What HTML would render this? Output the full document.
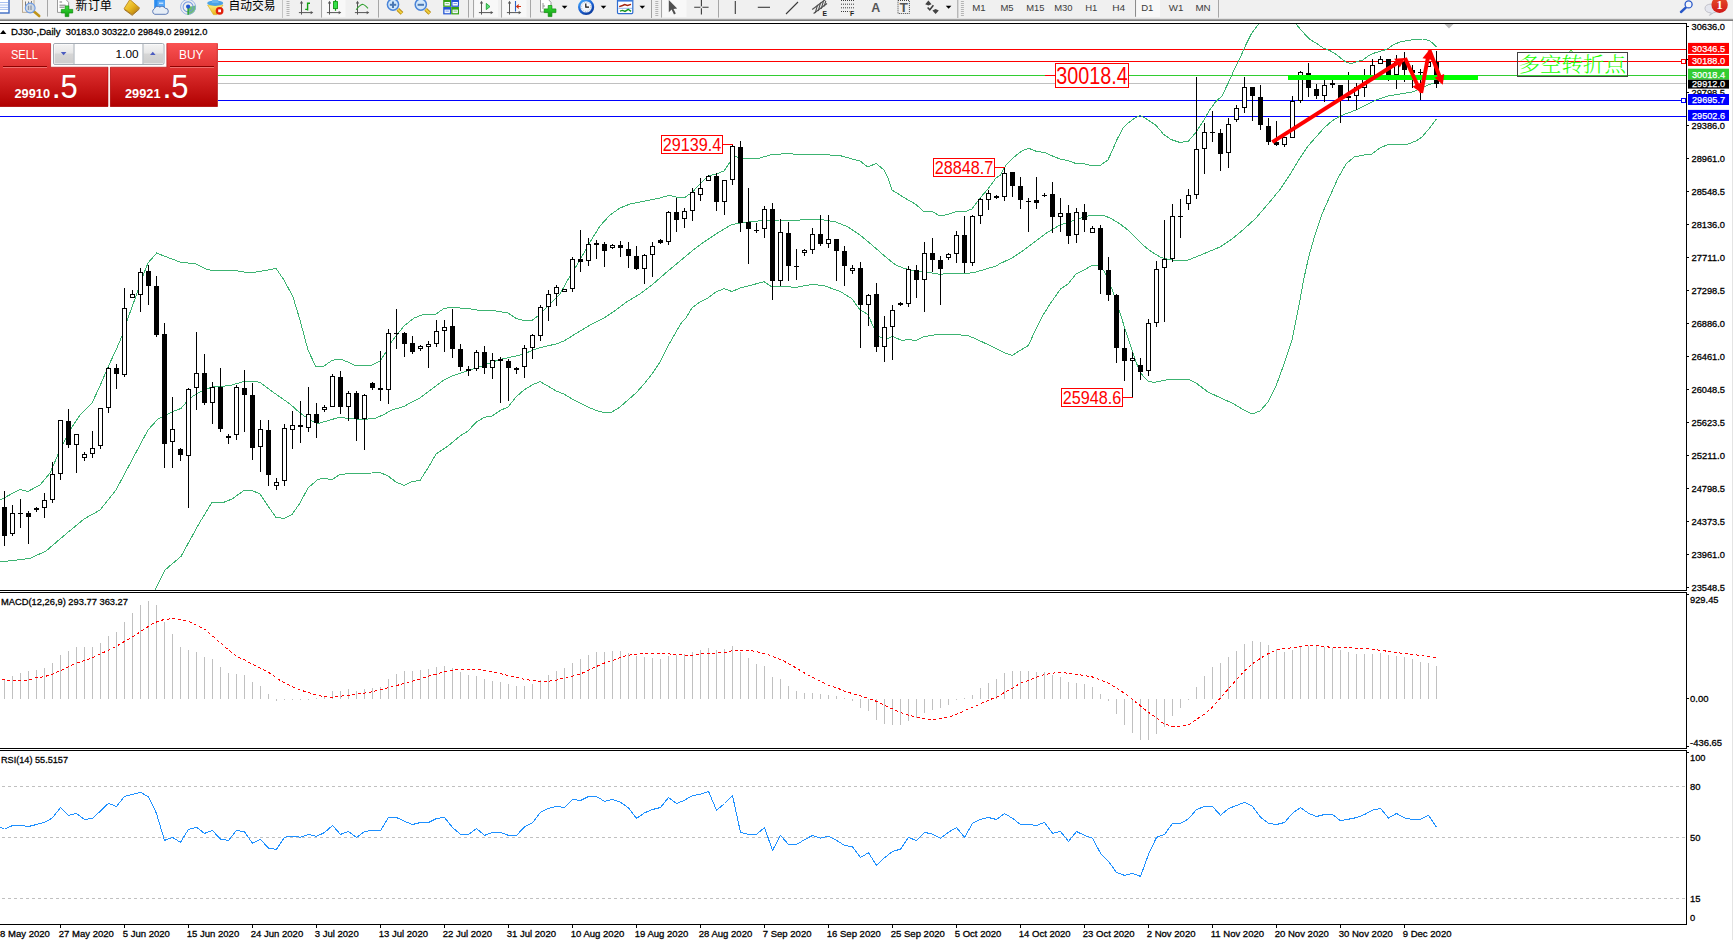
<!DOCTYPE html><html><head><meta charset="utf-8"><title>DJ30-,Daily</title><style>html,body{margin:0;padding:0;background:#fff;overflow:hidden}svg{display:block}.s{stroke:#000;stroke-width:.28px;paint-order:stroke}.w{stroke:#fff;stroke-width:.25px}</style></head><body>
<svg width="1733" height="940" viewBox="0 0 1733 940" font-family='"Liberation Sans", "Noto Sans CJK SC", sans-serif'>
<defs>
<linearGradient id="gp" x1="0" y1="0" x2="0" y2="1"><stop offset="0" stop-color="#fa5252"/><stop offset="0.38" stop-color="#e03232"/><stop offset="1" stop-color="#b00000"/></linearGradient>
<linearGradient id="gb" x1="0" y1="0" x2="0" y2="1"><stop offset="0" stop-color="#f4f4f4"/><stop offset="0.45" stop-color="#e6e6e6"/><stop offset="0.5" stop-color="#d6d6d6"/><stop offset="1" stop-color="#cdcdcd"/></linearGradient>
<linearGradient id="gt" x1="0" y1="0" x2="0" y2="1"><stop offset="0" stop-color="#d8d8d8"/><stop offset="0.6" stop-color="#8a8a8a"/><stop offset="1" stop-color="#6e6e6e"/></linearGradient>
<linearGradient id="gred" x1="0" y1="0" x2="0" y2="1"><stop offset="0" stop-color="#e8502a"/><stop offset="1" stop-color="#d01818"/></linearGradient>
<clipPath id="cm"><rect x="0" y="24" width="1686" height="566"/></clipPath>
<clipPath id="cp"><rect x="0" y="0" width="1733" height="19"/></clipPath>
</defs>
<rect x="0" y="0" width="1733" height="940" fill="#fff"/>
<g clip-path="url(#cm)">
<line x1="0" y1="83.5" x2="1686" y2="83.5" stroke="#c0c0c0" stroke-width="1"/>
<line x1="0" y1="49.5" x2="1686" y2="49.5" stroke="#ff0000" stroke-width="1"/>
<line x1="0" y1="61.5" x2="1686" y2="61.5" stroke="#ff0000" stroke-width="1"/>
<line x1="0" y1="75.5" x2="1686" y2="75.5" stroke="#32cd32" stroke-width="1"/>
<line x1="0" y1="100.5" x2="1686" y2="100.5" stroke="#0000ff" stroke-width="1"/>
<line x1="0" y1="116.5" x2="1686" y2="116.5" stroke="#0000ff" stroke-width="1"/>
<polyline fill="none" shape-rendering="crispEdges" stroke="#3cb371" stroke-width="1" points="-4.0,502.0 0.0,500.0 20.0,489.4 28.0,491.4 40.0,485.0 50.0,473.0 60.0,450.0 70.0,430.0 80.0,415.0 92.0,403.0 100.0,386.0 108.0,367.0 116.0,350.0 122.0,336.0 128.0,318.0 136.0,296.0 142.0,278.0 148.0,263.0 156.6,253.0 164.0,256.0 180.0,262.0 196.0,264.0 206.0,269.0 212.0,270.4 236.0,270.6 244.0,272.0 256.0,272.0 268.0,270.0 276.0,268.4 284.0,280.0 293.0,297.0 300.0,320.0 308.0,350.0 316.0,367.0 324.0,366.0 332.0,360.4 340.0,359.0 348.0,362.0 356.0,366.0 364.0,365.6 372.0,365.0 380.0,361.0 388.0,349.0 392.0,341.0 404.0,326.0 414.0,318.0 422.0,315.0 436.0,314.0 444.0,308.4 452.0,307.4 468.0,308.6 480.0,310.4 492.0,310.4 508.0,313.0 516.0,318.4 524.0,320.4 532.0,320.4 538.0,316.0 544.0,310.0 552.0,302.0 560.0,294.0 570.0,276.0 580.0,260.0 590.0,242.0 600.0,226.0 610.0,215.0 620.0,208.0 630.0,204.0 640.0,202.0 650.0,200.0 660.0,198.0 669.0,195.4 676.0,197.0 684.0,198.0 692.0,192.5 700.0,184.0 708.0,176.0 716.0,174.0 724.0,171.0 730.0,162.0 733.0,156.0 744.0,158.6 760.0,158.0 770.0,155.0 786.0,153.6 800.0,154.4 820.0,154.4 840.0,155.6 850.0,158.4 860.0,161.0 868.0,167.0 876.0,163.4 884.0,170.0 888.0,178.0 892.0,190.0 900.0,195.0 908.0,200.0 916.0,204.4 924.0,212.0 932.0,211.4 940.0,216.0 948.0,214.4 956.0,211.6 964.0,212.0 972.0,209.0 980.0,198.0 988.0,189.0 996.0,178.0 1000.0,175.5 1006.0,165.0 1013.5,157.5 1021.0,151.5 1028.5,148.2 1036.0,151.2 1045.0,152.7 1052.5,156.0 1060.0,159.0 1067.5,160.5 1075.0,163.2 1084.0,163.8 1091.5,165.5 1100.5,165.3 1108.0,159.8 1112.5,150.0 1117.0,139.5 1123.0,128.3 1129.0,122.3 1135.0,117.8 1140.3,115.5 1147.0,119.3 1156.0,125.3 1163.5,134.3 1171.0,139.5 1180.0,142.5 1188.3,141.3 1195.0,133.5 1202.5,122.3 1210.0,109.5 1216.0,101.3 1222.0,96.0 1230.0,79.2 1235.3,67.2 1240.6,56.6 1246.0,44.6 1251.3,34.0 1256.6,26.7 1260.0,23.0 1268.0,12.0 1277.0,8.0 1287.0,13.0 1295.2,23.0 1300.5,29.3 1305.8,35.3 1309.8,39.3 1316.4,43.3 1323.1,47.9 1329.7,50.6 1336.4,54.6 1343.0,59.9 1347.0,62.6 1351.0,63.5 1356.3,61.9 1363.0,59.9 1368.3,55.9 1373.6,53.3 1380.3,51.3 1386.9,49.3 1393.6,44.6 1400.2,41.9 1408.2,40.4 1416.2,39.3 1422.8,39.0 1429.5,40.6 1433.5,43.9 1436.5,46.8"/>
<polyline fill="none" shape-rendering="crispEdges" stroke="#3cb371" stroke-width="1" points="-4.0,562.5 0.0,562.0 30.0,558.4 46.0,551.0 64.0,535.6 84.0,519.0 100.0,510.0 116.0,490.0 132.0,460.0 148.0,430.0 158.0,419.0 174.0,411.0 181.0,408.5 190.0,398.0 200.0,392.0 212.0,387.0 222.0,386.4 232.0,385.0 244.0,381.4 252.0,381.0 260.0,382.4 270.0,390.0 280.0,397.0 290.0,404.0 300.0,413.0 310.0,420.0 318.0,423.6 330.0,420.0 340.0,417.2 348.0,418.4 364.0,419.6 376.0,418.0 384.0,414.4 392.0,410.0 404.0,406.4 412.0,402.0 420.0,398.0 428.0,392.0 436.0,386.0 444.0,380.0 452.0,376.0 464.0,372.0 476.0,368.0 484.0,365.4 492.0,362.0 504.0,358.6 516.0,356.0 524.0,354.0 532.0,350.4 540.0,347.6 556.0,344.0 564.0,341.0 572.0,336.0 580.0,331.0 592.0,324.0 604.0,318.0 616.0,310.0 628.0,301.0 640.0,294.0 652.0,285.0 660.0,278.0 668.0,271.0 680.0,261.0 692.0,251.0 704.0,242.0 716.0,234.0 724.0,229.0 732.0,224.5 740.0,223.0 752.0,221.6 764.0,220.4 780.0,220.0 800.0,220.0 812.0,219.0 824.0,220.0 836.0,222.0 848.0,227.0 860.0,235.0 872.0,245.0 880.0,252.0 888.0,259.0 896.0,265.0 904.0,268.4 916.0,271.0 928.0,272.4 940.0,274.4 952.0,273.0 964.0,274.0 976.0,272.0 988.0,268.4 996.0,266.0 1000.0,263.6 1012.0,258.0 1024.0,250.0 1036.0,241.0 1048.0,232.0 1060.0,225.0 1072.0,221.0 1084.0,217.0 1092.0,215.0 1104.0,215.4 1112.0,219.0 1120.0,224.0 1128.0,230.0 1136.0,238.0 1144.0,246.0 1152.0,252.0 1160.0,257.0 1168.0,259.4 1176.0,260.4 1188.0,260.0 1196.0,257.0 1208.0,252.0 1220.0,247.0 1232.0,239.0 1244.0,229.0 1256.0,218.0 1268.0,204.0 1280.0,189.5 1290.0,174.5 1300.0,158.0 1308.0,146.0 1316.0,137.0 1324.0,128.0 1332.0,121.0 1340.0,116.0 1348.0,113.0 1356.0,110.0 1364.0,106.0 1376.0,100.0 1388.0,96.0 1400.0,94.0 1412.0,92.0 1420.0,89.0 1428.0,85.0 1436.5,82.0"/>
<polyline fill="none" shape-rendering="crispEdges" stroke="#3cb371" stroke-width="1" points="148.0,606.0 155.0,590.0 165.0,570.0 181.0,556.4 190.0,540.0 200.0,522.0 212.0,502.4 222.0,503.0 232.0,499.0 244.0,490.4 252.0,490.4 260.0,494.0 268.0,506.0 276.0,517.4 284.0,518.4 292.0,514.4 300.0,503.0 308.0,488.0 318.0,479.4 324.0,478.4 332.0,479.6 340.0,474.4 352.0,473.4 372.0,473.0 380.0,472.4 388.0,476.0 396.0,482.0 404.0,485.4 412.0,481.6 420.0,480.4 428.0,468.0 436.0,454.0 448.0,446.0 460.0,436.0 468.0,431.0 476.0,422.4 484.0,417.4 492.0,416.0 500.0,410.6 508.0,407.0 516.0,397.0 524.0,390.0 532.0,385.0 540.0,381.6 548.0,386.0 556.0,391.0 564.0,394.0 572.0,399.0 580.0,403.0 588.0,407.0 596.0,410.4 604.0,412.6 612.0,412.0 620.0,407.0 628.0,400.0 636.0,393.0 644.0,384.0 652.0,374.0 660.0,362.0 668.0,346.0 676.0,332.0 682.0,322.0 686.0,318.0 692.0,308.0 700.0,302.0 708.0,298.0 716.0,292.0 724.0,288.6 732.0,291.6 740.0,288.0 752.0,285.0 764.0,281.6 772.0,287.0 784.0,286.4 796.0,287.4 812.0,284.4 824.0,285.6 836.0,290.0 840.0,291.3 852.0,298.8 859.5,309.3 867.8,314.5 873.0,325.8 879.0,336.3 885.0,340.0 892.5,336.3 901.5,340.3 909.0,339.6 915.8,340.5 924.0,336.7 937.5,334.5 952.5,334.3 967.5,335.5 975.0,338.5 990.0,345.6 1005.0,353.0 1012.0,355.5 1020.0,350.5 1028.3,345.6 1035.0,331.0 1042.5,316.0 1050.0,304.0 1060.5,289.0 1068.0,284.0 1076.0,274.0 1084.0,270.0 1092.0,265.4 1098.0,266.0 1104.0,271.0 1110.0,284.0 1116.0,300.0 1120.0,313.0 1126.0,332.0 1132.0,350.0 1136.0,362.0 1140.0,372.0 1144.0,377.0 1148.0,381.0 1154.0,382.4 1164.0,380.4 1172.0,379.0 1188.0,379.0 1196.0,383.0 1208.0,392.0 1220.0,397.6 1232.0,403.0 1244.0,410.0 1252.0,414.0 1260.0,411.0 1268.0,402.0 1276.0,386.0 1284.0,364.0 1292.0,340.0 1300.0,300.0 1304.0,278.0 1308.0,260.0 1312.0,245.0 1316.0,232.0 1322.0,214.0 1330.0,196.0 1338.0,178.0 1346.0,164.0 1354.0,157.0 1364.0,155.0 1372.0,154.0 1380.0,148.0 1388.0,144.4 1400.0,144.0 1408.0,144.0 1416.0,141.0 1422.0,137.0 1428.0,130.0 1432.0,125.0 1436.5,119.0"/>
<g stroke="#000" stroke-width="1" shape-rendering="crispEdges">
<line x1="4.5" y1="491" x2="4.5" y2="546"/>
<rect x="2.0" y="507" width="5" height="29" fill="#000" stroke="none"/>
<line x1="12.5" y1="505" x2="12.5" y2="536"/>
<rect x="10.5" y="513.5" width="4" height="20" fill="#fff"/>
<line x1="20.5" y1="499" x2="20.5" y2="528"/>
<rect x="18.0" y="513" width="5" height="1" fill="#000" stroke="none"/>
<line x1="28.5" y1="511" x2="28.5" y2="544"/>
<rect x="26.0" y="513" width="5" height="4" fill="#000" stroke="none"/>
<line x1="36.5" y1="507" x2="36.5" y2="512"/>
<rect x="34.0" y="508" width="5" height="2" fill="#000" stroke="none"/>
<line x1="44.5" y1="493" x2="44.5" y2="518"/>
<rect x="42.5" y="500.5" width="4" height="7" fill="#fff"/>
<line x1="52.5" y1="462" x2="52.5" y2="503"/>
<rect x="50.5" y="474.5" width="4" height="25" fill="#fff"/>
<line x1="60.5" y1="420" x2="60.5" y2="480"/>
<rect x="58.5" y="420.5" width="4" height="53" fill="#fff"/>
<line x1="68.5" y1="409" x2="68.5" y2="448"/>
<rect x="66.0" y="421" width="5" height="24" fill="#000" stroke="none"/>
<line x1="76.5" y1="434" x2="76.5" y2="473"/>
<rect x="74.5" y="434.5" width="4" height="10" fill="#fff"/>
<line x1="84.5" y1="452" x2="84.5" y2="461"/>
<rect x="82.5" y="454.5" width="4" height="3" fill="#fff"/>
<line x1="92.5" y1="431" x2="92.5" y2="458"/>
<rect x="90.5" y="448.5" width="4" height="5" fill="#fff"/>
<line x1="100.5" y1="408" x2="100.5" y2="449"/>
<rect x="98.5" y="408.5" width="4" height="37" fill="#fff"/>
<line x1="108.5" y1="367" x2="108.5" y2="413"/>
<rect x="106.5" y="368.5" width="4" height="39" fill="#fff"/>
<line x1="116.5" y1="364" x2="116.5" y2="389"/>
<rect x="114.0" y="368" width="5" height="6" fill="#000" stroke="none"/>
<line x1="124.5" y1="288" x2="124.5" y2="377"/>
<rect x="122.5" y="308.5" width="4" height="66" fill="#fff"/>
<line x1="132.5" y1="290" x2="132.5" y2="297"/>
<rect x="130.5" y="294.5" width="4" height="3" fill="#fff"/>
<line x1="140.5" y1="268" x2="140.5" y2="312"/>
<rect x="138.5" y="272.5" width="4" height="22" fill="#fff"/>
<line x1="148.5" y1="265" x2="148.5" y2="305"/>
<rect x="146.0" y="271" width="5" height="15" fill="#000" stroke="none"/>
<line x1="156.5" y1="276" x2="156.5" y2="337"/>
<rect x="154.0" y="286" width="5" height="49" fill="#000" stroke="none"/>
<line x1="164.5" y1="323" x2="164.5" y2="468"/>
<rect x="162.0" y="334" width="5" height="110" fill="#000" stroke="none"/>
<line x1="172.5" y1="397" x2="172.5" y2="468"/>
<rect x="170.5" y="429.5" width="4" height="12" fill="#fff"/>
<line x1="180.5" y1="448" x2="180.5" y2="461"/>
<rect x="178.0" y="449" width="5" height="6" fill="#000" stroke="none"/>
<line x1="188.5" y1="388" x2="188.5" y2="508"/>
<rect x="186.5" y="389.5" width="4" height="66" fill="#fff"/>
<line x1="196.5" y1="332" x2="196.5" y2="410"/>
<rect x="194.5" y="373.5" width="4" height="14" fill="#fff"/>
<line x1="204.5" y1="354" x2="204.5" y2="405"/>
<rect x="202.0" y="373" width="5" height="30" fill="#000" stroke="none"/>
<line x1="212.5" y1="382" x2="212.5" y2="424"/>
<rect x="210.5" y="387.5" width="4" height="15" fill="#fff"/>
<line x1="220.5" y1="368" x2="220.5" y2="432"/>
<rect x="218.0" y="387" width="5" height="42" fill="#000" stroke="none"/>
<line x1="228.5" y1="434" x2="228.5" y2="444"/>
<rect x="226.0" y="436" width="5" height="2" fill="#000" stroke="none"/>
<line x1="236.5" y1="385" x2="236.5" y2="440"/>
<rect x="234.5" y="387.5" width="4" height="47" fill="#fff"/>
<line x1="244.5" y1="370" x2="244.5" y2="432"/>
<rect x="242.0" y="388" width="5" height="7" fill="#000" stroke="none"/>
<line x1="252.5" y1="383" x2="252.5" y2="460"/>
<rect x="250.0" y="395" width="5" height="53" fill="#000" stroke="none"/>
<line x1="260.5" y1="420" x2="260.5" y2="472"/>
<rect x="258.5" y="429.5" width="4" height="17" fill="#fff"/>
<line x1="268.5" y1="420" x2="268.5" y2="486"/>
<rect x="266.0" y="430" width="5" height="45" fill="#000" stroke="none"/>
<line x1="276.5" y1="478" x2="276.5" y2="490"/>
<rect x="274.5" y="482.5" width="4" height="3" fill="#fff"/>
<line x1="284.5" y1="424" x2="284.5" y2="486"/>
<rect x="282.5" y="428.5" width="4" height="52" fill="#fff"/>
<line x1="292.5" y1="411" x2="292.5" y2="449"/>
<rect x="290.5" y="425.5" width="4" height="4" fill="#fff"/>
<line x1="300.5" y1="401" x2="300.5" y2="443"/>
<rect x="298.0" y="425" width="5" height="2" fill="#000" stroke="none"/>
<line x1="308.5" y1="387" x2="308.5" y2="432"/>
<rect x="306.5" y="414.5" width="4" height="13" fill="#fff"/>
<line x1="316.5" y1="403" x2="316.5" y2="438"/>
<rect x="314.0" y="414" width="5" height="9" fill="#000" stroke="none"/>
<line x1="324.5" y1="405" x2="324.5" y2="412"/>
<rect x="322.5" y="407.5" width="4" height="2" fill="#fff"/>
<line x1="332.5" y1="374" x2="332.5" y2="407"/>
<rect x="330.5" y="376.5" width="4" height="30" fill="#fff"/>
<line x1="340.5" y1="371" x2="340.5" y2="414"/>
<rect x="338.0" y="377" width="5" height="30" fill="#000" stroke="none"/>
<line x1="348.5" y1="391" x2="348.5" y2="421"/>
<rect x="346.5" y="393.5" width="4" height="13" fill="#fff"/>
<line x1="356.5" y1="391" x2="356.5" y2="441"/>
<rect x="354.0" y="393" width="5" height="26" fill="#000" stroke="none"/>
<line x1="364.5" y1="394" x2="364.5" y2="450"/>
<rect x="362.5" y="395.5" width="4" height="23" fill="#fff"/>
<line x1="372.5" y1="382" x2="372.5" y2="390"/>
<rect x="370.0" y="383" width="5" height="5" fill="#000" stroke="none"/>
<line x1="380.5" y1="351" x2="380.5" y2="401"/>
<rect x="378.0" y="388" width="5" height="2" fill="#000" stroke="none"/>
<line x1="388.5" y1="329" x2="388.5" y2="404"/>
<rect x="386.5" y="333.5" width="4" height="56" fill="#fff"/>
<line x1="396.5" y1="309" x2="396.5" y2="349"/>
<rect x="394.0" y="333" width="5" height="1" fill="#000" stroke="none"/>
<line x1="404.5" y1="332" x2="404.5" y2="357"/>
<rect x="402.0" y="333" width="5" height="11" fill="#000" stroke="none"/>
<line x1="412.5" y1="336" x2="412.5" y2="354"/>
<rect x="410.0" y="343" width="5" height="9" fill="#000" stroke="none"/>
<line x1="420.5" y1="345" x2="420.5" y2="351"/>
<rect x="418.5" y="346.5" width="4" height="2" fill="#fff"/>
<line x1="428.5" y1="341" x2="428.5" y2="368"/>
<rect x="426.5" y="344.5" width="4" height="2" fill="#fff"/>
<line x1="436.5" y1="320" x2="436.5" y2="347"/>
<rect x="434.5" y="331.5" width="4" height="12" fill="#fff"/>
<line x1="444.5" y1="320" x2="444.5" y2="352"/>
<rect x="442.5" y="327.5" width="4" height="3" fill="#fff"/>
<line x1="452.5" y1="309" x2="452.5" y2="358"/>
<rect x="450.0" y="326" width="5" height="23" fill="#000" stroke="none"/>
<line x1="460.5" y1="344" x2="460.5" y2="371"/>
<rect x="458.0" y="349" width="5" height="18" fill="#000" stroke="none"/>
<line x1="468.5" y1="366" x2="468.5" y2="376"/>
<rect x="466.0" y="369" width="5" height="2" fill="#000" stroke="none"/>
<line x1="476.5" y1="350" x2="476.5" y2="371"/>
<rect x="474.5" y="352.5" width="4" height="16" fill="#fff"/>
<line x1="484.5" y1="346" x2="484.5" y2="374"/>
<rect x="482.0" y="352" width="5" height="16" fill="#000" stroke="none"/>
<line x1="492.5" y1="353" x2="492.5" y2="379"/>
<rect x="490.5" y="360.5" width="4" height="7" fill="#fff"/>
<line x1="500.5" y1="357" x2="500.5" y2="403"/>
<rect x="498.0" y="359" width="5" height="2" fill="#000" stroke="none"/>
<line x1="508.5" y1="359" x2="508.5" y2="401"/>
<rect x="506.0" y="361" width="5" height="7" fill="#000" stroke="none"/>
<line x1="516.5" y1="367" x2="516.5" y2="374"/>
<rect x="514.0" y="368" width="5" height="2" fill="#000" stroke="none"/>
<line x1="524.5" y1="345" x2="524.5" y2="378"/>
<rect x="522.5" y="348.5" width="4" height="18" fill="#fff"/>
<line x1="532.5" y1="334" x2="532.5" y2="359"/>
<rect x="530.5" y="335.5" width="4" height="12" fill="#fff"/>
<line x1="540.5" y1="305" x2="540.5" y2="341"/>
<rect x="538.5" y="307.5" width="4" height="28" fill="#fff"/>
<line x1="548.5" y1="290" x2="548.5" y2="321"/>
<rect x="546.5" y="294.5" width="4" height="12" fill="#fff"/>
<line x1="556.5" y1="285" x2="556.5" y2="306"/>
<rect x="554.5" y="287.5" width="4" height="6" fill="#fff"/>
<line x1="564.5" y1="289" x2="564.5" y2="292"/>
<rect x="562.5" y="289.5" width="4" height="2" fill="#fff"/>
<line x1="572.5" y1="257" x2="572.5" y2="292"/>
<rect x="570.5" y="259.5" width="4" height="29" fill="#fff"/>
<line x1="580.5" y1="230" x2="580.5" y2="272"/>
<rect x="578.0" y="259" width="5" height="3" fill="#000" stroke="none"/>
<line x1="588.5" y1="238" x2="588.5" y2="266"/>
<rect x="586.5" y="244.5" width="4" height="16" fill="#fff"/>
<line x1="596.5" y1="240" x2="596.5" y2="259"/>
<rect x="594.0" y="243" width="5" height="2" fill="#000" stroke="none"/>
<line x1="604.5" y1="242" x2="604.5" y2="267"/>
<rect x="602.0" y="244" width="5" height="7" fill="#000" stroke="none"/>
<line x1="612.5" y1="244" x2="612.5" y2="249"/>
<rect x="610.5" y="245.5" width="4" height="2" fill="#fff"/>
<line x1="620.5" y1="241" x2="620.5" y2="257"/>
<rect x="618.0" y="245" width="5" height="3" fill="#000" stroke="none"/>
<line x1="628.5" y1="242" x2="628.5" y2="268"/>
<rect x="626.0" y="249" width="5" height="7" fill="#000" stroke="none"/>
<line x1="636.5" y1="246" x2="636.5" y2="270"/>
<rect x="634.0" y="256" width="5" height="13" fill="#000" stroke="none"/>
<line x1="644.5" y1="254" x2="644.5" y2="284"/>
<rect x="642.5" y="255.5" width="4" height="13" fill="#fff"/>
<line x1="652.5" y1="242" x2="652.5" y2="277"/>
<rect x="650.5" y="246.5" width="4" height="8" fill="#fff"/>
<line x1="660.5" y1="239" x2="660.5" y2="244"/>
<rect x="658.0" y="240" width="5" height="3" fill="#000" stroke="none"/>
<line x1="668.5" y1="211" x2="668.5" y2="245"/>
<rect x="666.5" y="212.5" width="4" height="29" fill="#fff"/>
<line x1="676.5" y1="198" x2="676.5" y2="232"/>
<rect x="674.0" y="212" width="5" height="8" fill="#000" stroke="none"/>
<line x1="684.5" y1="208" x2="684.5" y2="228"/>
<rect x="682.5" y="211.5" width="4" height="7" fill="#fff"/>
<line x1="692.5" y1="188" x2="692.5" y2="221"/>
<rect x="690.5" y="192.5" width="4" height="18" fill="#fff"/>
<line x1="700.5" y1="178" x2="700.5" y2="201"/>
<rect x="698.5" y="188.5" width="4" height="6" fill="#fff"/>
<line x1="708.5" y1="175" x2="708.5" y2="181"/>
<rect x="706.5" y="176.5" width="4" height="4" fill="#fff"/>
<line x1="716.5" y1="173" x2="716.5" y2="211"/>
<rect x="714.0" y="176" width="5" height="26" fill="#000" stroke="none"/>
<line x1="724.5" y1="180" x2="724.5" y2="215"/>
<rect x="722.5" y="180.5" width="4" height="21" fill="#fff"/>
<line x1="732.5" y1="144" x2="732.5" y2="185"/>
<rect x="730.5" y="146.5" width="4" height="33" fill="#fff"/>
<line x1="740.5" y1="141" x2="740.5" y2="232"/>
<rect x="738.0" y="147" width="5" height="76" fill="#000" stroke="none"/>
<line x1="748.5" y1="188" x2="748.5" y2="264"/>
<rect x="746.0" y="222" width="5" height="7" fill="#000" stroke="none"/>
<line x1="756.5" y1="223" x2="756.5" y2="233"/>
<rect x="754.0" y="230" width="5" height="1" fill="#000" stroke="none"/>
<line x1="764.5" y1="206" x2="764.5" y2="238"/>
<rect x="762.5" y="209.5" width="4" height="19" fill="#fff"/>
<line x1="772.5" y1="203" x2="772.5" y2="300"/>
<rect x="770.0" y="209" width="5" height="72" fill="#000" stroke="none"/>
<line x1="780.5" y1="219" x2="780.5" y2="286"/>
<rect x="778.5" y="232.5" width="4" height="48" fill="#fff"/>
<line x1="788.5" y1="222" x2="788.5" y2="281"/>
<rect x="786.0" y="233" width="5" height="33" fill="#000" stroke="none"/>
<line x1="796.5" y1="249" x2="796.5" y2="280"/>
<rect x="794.0" y="266" width="5" height="1" fill="#000" stroke="none"/>
<line x1="804.5" y1="249" x2="804.5" y2="256"/>
<rect x="802.5" y="250.5" width="4" height="2" fill="#fff"/>
<line x1="812.5" y1="228" x2="812.5" y2="254"/>
<rect x="810.5" y="234.5" width="4" height="15" fill="#fff"/>
<line x1="820.5" y1="215" x2="820.5" y2="246"/>
<rect x="818.0" y="234" width="5" height="10" fill="#000" stroke="none"/>
<line x1="828.5" y1="215" x2="828.5" y2="248"/>
<rect x="826.5" y="239.5" width="4" height="4" fill="#fff"/>
<line x1="836.5" y1="239" x2="836.5" y2="281"/>
<rect x="834.0" y="239" width="5" height="12" fill="#000" stroke="none"/>
<line x1="844.5" y1="246" x2="844.5" y2="286"/>
<rect x="842.0" y="251" width="5" height="15" fill="#000" stroke="none"/>
<line x1="852.5" y1="265" x2="852.5" y2="274"/>
<rect x="850.5" y="268.5" width="4" height="2" fill="#fff"/>
<line x1="860.5" y1="262" x2="860.5" y2="348"/>
<rect x="858.0" y="268" width="5" height="37" fill="#000" stroke="none"/>
<line x1="868.5" y1="294" x2="868.5" y2="326"/>
<rect x="866.5" y="295.5" width="4" height="9" fill="#fff"/>
<line x1="876.5" y1="283" x2="876.5" y2="352"/>
<rect x="874.0" y="294" width="5" height="53" fill="#000" stroke="none"/>
<line x1="884.5" y1="316" x2="884.5" y2="362"/>
<rect x="882.5" y="327.5" width="4" height="19" fill="#fff"/>
<line x1="892.5" y1="305" x2="892.5" y2="360"/>
<rect x="890.5" y="310.5" width="4" height="16" fill="#fff"/>
<line x1="900.5" y1="302" x2="900.5" y2="306"/>
<rect x="898.0" y="303" width="5" height="2" fill="#000" stroke="none"/>
<line x1="908.5" y1="266" x2="908.5" y2="307"/>
<rect x="906.5" y="269.5" width="4" height="34" fill="#fff"/>
<line x1="916.5" y1="265" x2="916.5" y2="298"/>
<rect x="914.0" y="270" width="5" height="10" fill="#000" stroke="none"/>
<line x1="924.5" y1="242" x2="924.5" y2="312"/>
<rect x="922.5" y="253.5" width="4" height="26" fill="#fff"/>
<line x1="932.5" y1="238" x2="932.5" y2="272"/>
<rect x="930.0" y="253" width="5" height="7" fill="#000" stroke="none"/>
<line x1="940.5" y1="256" x2="940.5" y2="305"/>
<rect x="938.0" y="260" width="5" height="9" fill="#000" stroke="none"/>
<line x1="948.5" y1="253" x2="948.5" y2="260"/>
<rect x="946.5" y="254.5" width="4" height="3" fill="#fff"/>
<line x1="956.5" y1="231" x2="956.5" y2="263"/>
<rect x="954.5" y="235.5" width="4" height="18" fill="#fff"/>
<line x1="964.5" y1="216" x2="964.5" y2="273"/>
<rect x="962.0" y="235" width="5" height="28" fill="#000" stroke="none"/>
<line x1="972.5" y1="215" x2="972.5" y2="266"/>
<rect x="970.5" y="216.5" width="4" height="46" fill="#fff"/>
<line x1="980.5" y1="198" x2="980.5" y2="224"/>
<rect x="978.5" y="199.5" width="4" height="16" fill="#fff"/>
<line x1="988.5" y1="190" x2="988.5" y2="210"/>
<rect x="986.5" y="193.5" width="4" height="6" fill="#fff"/>
<line x1="996.5" y1="195" x2="996.5" y2="199"/>
<rect x="994.0" y="196" width="5" height="2" fill="#000" stroke="none"/>
<line x1="1004.5" y1="167" x2="1004.5" y2="201"/>
<rect x="1002.5" y="173.5" width="4" height="23" fill="#fff"/>
<line x1="1012.5" y1="172" x2="1012.5" y2="197"/>
<rect x="1010.0" y="172" width="5" height="14" fill="#000" stroke="none"/>
<line x1="1020.5" y1="177" x2="1020.5" y2="209"/>
<rect x="1018.0" y="186" width="5" height="14" fill="#000" stroke="none"/>
<line x1="1028.5" y1="198" x2="1028.5" y2="232"/>
<rect x="1026.0" y="201" width="5" height="1" fill="#000" stroke="none"/>
<line x1="1036.5" y1="177" x2="1036.5" y2="209"/>
<rect x="1034.0" y="200" width="5" height="3" fill="#000" stroke="none"/>
<line x1="1044.5" y1="193" x2="1044.5" y2="197"/>
<rect x="1042.0" y="195" width="5" height="1" fill="#000" stroke="none"/>
<line x1="1052.5" y1="182" x2="1052.5" y2="233"/>
<rect x="1050.0" y="194" width="5" height="23" fill="#000" stroke="none"/>
<line x1="1060.5" y1="198" x2="1060.5" y2="232"/>
<rect x="1058.5" y="213.5" width="4" height="3" fill="#fff"/>
<line x1="1068.5" y1="205" x2="1068.5" y2="244"/>
<rect x="1066.0" y="213" width="5" height="23" fill="#000" stroke="none"/>
<line x1="1076.5" y1="208" x2="1076.5" y2="243"/>
<rect x="1074.5" y="212.5" width="4" height="22" fill="#fff"/>
<line x1="1084.5" y1="204" x2="1084.5" y2="232"/>
<rect x="1082.0" y="212" width="5" height="8" fill="#000" stroke="none"/>
<line x1="1092.5" y1="226" x2="1092.5" y2="232"/>
<rect x="1090.5" y="228.5" width="4" height="4" fill="#fff"/>
<line x1="1100.5" y1="225" x2="1100.5" y2="294"/>
<rect x="1098.0" y="228" width="5" height="42" fill="#000" stroke="none"/>
<line x1="1108.5" y1="257" x2="1108.5" y2="301"/>
<rect x="1106.0" y="270" width="5" height="25" fill="#000" stroke="none"/>
<line x1="1116.5" y1="294" x2="1116.5" y2="363"/>
<rect x="1114.0" y="295" width="5" height="53" fill="#000" stroke="none"/>
<line x1="1124.5" y1="329" x2="1124.5" y2="381"/>
<rect x="1122.0" y="348" width="5" height="13" fill="#000" stroke="none"/>
<line x1="1132.5" y1="352" x2="1132.5" y2="397"/>
<rect x="1130.5" y="358.5" width="4" height="2" fill="#fff"/>
<line x1="1140.5" y1="358" x2="1140.5" y2="380"/>
<rect x="1138.0" y="365" width="5" height="7" fill="#000" stroke="none"/>
<line x1="1148.5" y1="319" x2="1148.5" y2="376"/>
<rect x="1146.5" y="323.5" width="4" height="47" fill="#fff"/>
<line x1="1156.5" y1="261" x2="1156.5" y2="327"/>
<rect x="1154.5" y="269.5" width="4" height="53" fill="#fff"/>
<line x1="1164.5" y1="220" x2="1164.5" y2="322"/>
<rect x="1162.5" y="259.5" width="4" height="8" fill="#fff"/>
<line x1="1172.5" y1="204" x2="1172.5" y2="262"/>
<rect x="1170.5" y="216.5" width="4" height="42" fill="#fff"/>
<line x1="1180.5" y1="199" x2="1180.5" y2="238"/>
<rect x="1178.0" y="216" width="5" height="1" fill="#000" stroke="none"/>
<line x1="1188.5" y1="189" x2="1188.5" y2="210"/>
<rect x="1186.5" y="195.5" width="4" height="8" fill="#fff"/>
<line x1="1196.5" y1="77" x2="1196.5" y2="199"/>
<rect x="1194.5" y="149.5" width="4" height="45" fill="#fff"/>
<line x1="1204.5" y1="123" x2="1204.5" y2="174"/>
<rect x="1202.5" y="132.5" width="4" height="16" fill="#fff"/>
<line x1="1212.5" y1="111" x2="1212.5" y2="142"/>
<rect x="1210.0" y="132" width="5" height="1" fill="#000" stroke="none"/>
<line x1="1220.5" y1="129" x2="1220.5" y2="171"/>
<rect x="1218.0" y="133" width="5" height="21" fill="#000" stroke="none"/>
<line x1="1228.5" y1="118" x2="1228.5" y2="168"/>
<rect x="1226.5" y="124.5" width="4" height="28" fill="#fff"/>
<line x1="1236.5" y1="105" x2="1236.5" y2="122"/>
<rect x="1234.5" y="108.5" width="4" height="11" fill="#fff"/>
<line x1="1244.5" y1="77" x2="1244.5" y2="113"/>
<rect x="1242.5" y="87.5" width="4" height="20" fill="#fff"/>
<line x1="1252.5" y1="87" x2="1252.5" y2="121"/>
<rect x="1250.0" y="87" width="5" height="9" fill="#000" stroke="none"/>
<line x1="1260.5" y1="85" x2="1260.5" y2="130"/>
<rect x="1258.0" y="97" width="5" height="28" fill="#000" stroke="none"/>
<line x1="1268.5" y1="118" x2="1268.5" y2="145"/>
<rect x="1266.0" y="126" width="5" height="16" fill="#000" stroke="none"/>
<line x1="1276.5" y1="121" x2="1276.5" y2="146"/>
<rect x="1274.0" y="142" width="5" height="3" fill="#000" stroke="none"/>
<line x1="1284.5" y1="137" x2="1284.5" y2="147"/>
<rect x="1282.5" y="137.5" width="4" height="7" fill="#fff"/>
<line x1="1292.5" y1="96" x2="1292.5" y2="138"/>
<rect x="1290.5" y="101.5" width="4" height="36" fill="#fff"/>
<line x1="1300.5" y1="71" x2="1300.5" y2="103"/>
<rect x="1298.5" y="72.5" width="4" height="28" fill="#fff"/>
<line x1="1308.5" y1="63" x2="1308.5" y2="97"/>
<rect x="1306.0" y="73" width="5" height="15" fill="#000" stroke="none"/>
<line x1="1316.5" y1="84" x2="1316.5" y2="99"/>
<rect x="1314.0" y="89" width="5" height="7" fill="#000" stroke="none"/>
<line x1="1324.5" y1="80" x2="1324.5" y2="102"/>
<rect x="1322.5" y="85.5" width="4" height="10" fill="#fff"/>
<line x1="1332.5" y1="80" x2="1332.5" y2="88"/>
<rect x="1330.0" y="83" width="5" height="2" fill="#000" stroke="none"/>
<line x1="1340.5" y1="85" x2="1340.5" y2="123"/>
<rect x="1338.0" y="85" width="5" height="13" fill="#000" stroke="none"/>
<line x1="1348.5" y1="72" x2="1348.5" y2="101"/>
<rect x="1346.0" y="96" width="5" height="2" fill="#000" stroke="none"/>
<line x1="1356.5" y1="83" x2="1356.5" y2="110"/>
<rect x="1354.5" y="87.5" width="4" height="8" fill="#fff"/>
<line x1="1364.5" y1="69" x2="1364.5" y2="97"/>
<rect x="1362.5" y="79.5" width="4" height="8" fill="#fff"/>
<line x1="1372.5" y1="59" x2="1372.5" y2="79"/>
<rect x="1370.5" y="65.5" width="4" height="14" fill="#fff"/>
<line x1="1380.5" y1="56" x2="1380.5" y2="64"/>
<rect x="1378.5" y="59.5" width="4" height="4" fill="#fff"/>
<line x1="1388.5" y1="59" x2="1388.5" y2="81"/>
<rect x="1386.0" y="59" width="5" height="16" fill="#000" stroke="none"/>
<line x1="1396.5" y1="55" x2="1396.5" y2="89"/>
<rect x="1394.5" y="62.5" width="4" height="12" fill="#fff"/>
<line x1="1404.5" y1="52" x2="1404.5" y2="82"/>
<rect x="1402.0" y="62" width="5" height="8" fill="#000" stroke="none"/>
<line x1="1412.5" y1="65" x2="1412.5" y2="88"/>
<rect x="1410.0" y="70" width="5" height="3" fill="#000" stroke="none"/>
<line x1="1420.5" y1="69" x2="1420.5" y2="100"/>
<rect x="1418.0" y="72" width="5" height="1" fill="#000" stroke="none"/>
<line x1="1428.5" y1="58" x2="1428.5" y2="67"/>
<rect x="1426.5" y="62.5" width="4" height="4" fill="#fff"/>
<line x1="1436.5" y1="51" x2="1436.5" y2="88"/>
<rect x="1434.0" y="62" width="5" height="22" fill="#000" stroke="none"/>
</g>
<rect x="1288" y="75" width="190" height="5" fill="#00ff00"/>
<line x1="1272.3" y1="142.1" x2="1398.7" y2="62.0" stroke="#ff0000" stroke-width="3.9"/>
<polygon points="1405.0,58.0 1399.8,67.5 1394.2,58.7" fill="#ff0000"/>
<line x1="1405.0" y1="58.0" x2="1418.0" y2="86.2" stroke="#ff0000" stroke-width="3.9"/>
<polygon points="1421.2,93.0 1412.5,86.6 1421.9,82.2" fill="#ff0000"/>
<line x1="1421.2" y1="93.0" x2="1428.0" y2="57.2" stroke="#ff0000" stroke-width="3.9"/>
<polygon points="1429.4,49.8 1432.7,60.1 1422.5,58.2" fill="#ff0000"/>
<line x1="1429.4" y1="50.0" x2="1440.1" y2="77.8" stroke="#ff0000" stroke-width="3.9"/>
<polygon points="1442.8,84.8 1434.5,77.8 1444.2,74.1" fill="#ff0000"/>
<polygon points="1444.5,24 1453.5,24 1449,28.5" fill="#bdbdbd"/>
<line x1="1045" y1="75.5" x2="1055" y2="75.5" stroke="#f00" stroke-width="1"/>
<rect x="1055.5" y="63.5" width="73" height="24" fill="#fff" stroke="#f00" stroke-width="1"/>
<text x="1092.0" y="84.3" font-size="23.6" fill="#f00" text-anchor="middle" textLength="71.5" lengthAdjust="spacingAndGlyphs">30018.4</text>
<line x1="723" y1="144.5" x2="733" y2="144.5" stroke="#f00" stroke-width="1"/>
<rect x="661.5" y="135.5" width="61" height="18" fill="#fff" stroke="#f00" stroke-width="1"/>
<text x="692.0" y="151.2" font-size="17.5" fill="#f00" text-anchor="middle" textLength="58.5" lengthAdjust="spacingAndGlyphs">29139.4</text>
<line x1="995" y1="167.5" x2="1005" y2="167.5" stroke="#f00" stroke-width="1"/>
<rect x="933.5" y="158.5" width="61" height="18" fill="#fff" stroke="#f00" stroke-width="1"/>
<text x="964.0" y="174.2" font-size="17.5" fill="#f00" text-anchor="middle" textLength="58.5" lengthAdjust="spacingAndGlyphs">28848.7</text>
<line x1="1123" y1="397.5" x2="1133" y2="397.5" stroke="#f00" stroke-width="1"/>
<rect x="1061.5" y="388.5" width="61" height="18" fill="#fff" stroke="#f00" stroke-width="1"/>
<text x="1092.0" y="404.2" font-size="17.5" fill="#f00" text-anchor="middle" textLength="58.5" lengthAdjust="spacingAndGlyphs">25948.6</text>
<rect x="1517.5" y="52.5" width="110" height="24" fill="none" stroke="#404040" stroke-width="1"/>
<text x="1518.6" y="72.4" font-size="20.5" fill="#22ff00" textLength="107.5" lengthAdjust="spacingAndGlyphs" font-family='"Liberation Serif","Noto Serif CJK SC",serif' font-weight="300">多空转折点</text>
<path d="M1569.5,52 l1.5,-2 l1.5,2" fill="none" stroke="#32cd32" stroke-width="1"/>
<rect x="1681.5" y="59.5" width="4" height="4" fill="#fff" stroke="#f00"/>
<rect x="1681.5" y="98.5" width="4" height="4" fill="#fff" stroke="#00f"/>
</g>
<g stroke="#c0c0c0" stroke-width="1" shape-rendering="crispEdges">
<line x1="4.5" y1="698.5" x2="4.5" y2="679.8"/>
<line x1="12.5" y1="698.5" x2="12.5" y2="675.8"/>
<line x1="20.5" y1="698.5" x2="20.5" y2="672.9"/>
<line x1="28.5" y1="698.5" x2="28.5" y2="670.9"/>
<line x1="36.5" y1="698.5" x2="36.5" y2="669.9"/>
<line x1="44.5" y1="698.5" x2="44.5" y2="667.9"/>
<line x1="52.5" y1="698.5" x2="52.5" y2="662.9"/>
<line x1="60.5" y1="698.5" x2="60.5" y2="654.9"/>
<line x1="68.5" y1="698.5" x2="68.5" y2="650.9"/>
<line x1="76.5" y1="698.5" x2="76.5" y2="646.9"/>
<line x1="84.5" y1="698.5" x2="84.5" y2="646.9"/>
<line x1="92.5" y1="698.5" x2="92.5" y2="646.9"/>
<line x1="100.5" y1="698.5" x2="100.5" y2="642.9"/>
<line x1="108.5" y1="698.5" x2="108.5" y2="635.9"/>
<line x1="116.5" y1="698.5" x2="116.5" y2="631.9"/>
<line x1="124.5" y1="698.5" x2="124.5" y2="621.9"/>
<line x1="132.5" y1="698.5" x2="132.5" y2="613.0"/>
<line x1="140.5" y1="698.5" x2="140.5" y2="605.0"/>
<line x1="148.5" y1="698.5" x2="148.5" y2="601.0"/>
<line x1="156.5" y1="698.5" x2="156.5" y2="605.0"/>
<line x1="164.5" y1="698.5" x2="164.5" y2="621.9"/>
<line x1="172.5" y1="698.5" x2="172.5" y2="633.9"/>
<line x1="180.5" y1="698.5" x2="180.5" y2="646.9"/>
<line x1="188.5" y1="698.5" x2="188.5" y2="649.9"/>
<line x1="196.5" y1="698.5" x2="196.5" y2="651.9"/>
<line x1="204.5" y1="698.5" x2="204.5" y2="656.9"/>
<line x1="212.5" y1="698.5" x2="212.5" y2="658.9"/>
<line x1="220.5" y1="698.5" x2="220.5" y2="666.9"/>
<line x1="228.5" y1="698.5" x2="228.5" y2="672.9"/>
<line x1="236.5" y1="698.5" x2="236.5" y2="673.8"/>
<line x1="244.5" y1="698.5" x2="244.5" y2="674.8"/>
<line x1="252.5" y1="698.5" x2="252.5" y2="681.8"/>
<line x1="260.5" y1="698.5" x2="260.5" y2="685.8"/>
<line x1="268.5" y1="698.5" x2="268.5" y2="693.8"/>
<line x1="276.5" y1="698.5" x2="276.5" y2="700.8"/>
<line x1="284.5" y1="698.5" x2="284.5" y2="699.8"/>
<line x1="292.5" y1="698.5" x2="292.5" y2="699.5"/>
<line x1="300.5" y1="698.5" x2="300.5" y2="699.5"/>
<line x1="308.5" y1="698.5" x2="308.5" y2="699.5"/>
<line x1="316.5" y1="698.5" x2="316.5" y2="697.5"/>
<line x1="324.5" y1="698.5" x2="324.5" y2="695.8"/>
<line x1="332.5" y1="698.5" x2="332.5" y2="690.8"/>
<line x1="340.5" y1="698.5" x2="340.5" y2="690.8"/>
<line x1="348.5" y1="698.5" x2="348.5" y2="688.8"/>
<line x1="356.5" y1="698.5" x2="356.5" y2="690.8"/>
<line x1="364.5" y1="698.5" x2="364.5" y2="688.8"/>
<line x1="372.5" y1="698.5" x2="372.5" y2="687.8"/>
<line x1="380.5" y1="698.5" x2="380.5" y2="686.8"/>
<line x1="388.5" y1="698.5" x2="388.5" y2="678.8"/>
<line x1="396.5" y1="698.5" x2="396.5" y2="673.8"/>
<line x1="404.5" y1="698.5" x2="404.5" y2="670.9"/>
<line x1="412.5" y1="698.5" x2="412.5" y2="670.9"/>
<line x1="420.5" y1="698.5" x2="420.5" y2="669.9"/>
<line x1="428.5" y1="698.5" x2="428.5" y2="668.9"/>
<line x1="436.5" y1="698.5" x2="436.5" y2="666.9"/>
<line x1="444.5" y1="698.5" x2="444.5" y2="665.9"/>
<line x1="452.5" y1="698.5" x2="452.5" y2="667.9"/>
<line x1="460.5" y1="698.5" x2="460.5" y2="671.9"/>
<line x1="468.5" y1="698.5" x2="468.5" y2="674.8"/>
<line x1="476.5" y1="698.5" x2="476.5" y2="675.8"/>
<line x1="484.5" y1="698.5" x2="484.5" y2="678.8"/>
<line x1="492.5" y1="698.5" x2="492.5" y2="680.8"/>
<line x1="500.5" y1="698.5" x2="500.5" y2="681.8"/>
<line x1="508.5" y1="698.5" x2="508.5" y2="683.8"/>
<line x1="516.5" y1="698.5" x2="516.5" y2="685.8"/>
<line x1="524.5" y1="698.5" x2="524.5" y2="685.8"/>
<line x1="532.5" y1="698.5" x2="532.5" y2="683.8"/>
<line x1="540.5" y1="698.5" x2="540.5" y2="679.8"/>
<line x1="548.5" y1="698.5" x2="548.5" y2="674.8"/>
<line x1="556.5" y1="698.5" x2="556.5" y2="670.9"/>
<line x1="564.5" y1="698.5" x2="564.5" y2="667.9"/>
<line x1="572.5" y1="698.5" x2="572.5" y2="662.9"/>
<line x1="580.5" y1="698.5" x2="580.5" y2="658.9"/>
<line x1="588.5" y1="698.5" x2="588.5" y2="654.9"/>
<line x1="596.5" y1="698.5" x2="596.5" y2="651.9"/>
<line x1="604.5" y1="698.5" x2="604.5" y2="651.9"/>
<line x1="612.5" y1="698.5" x2="612.5" y2="650.9"/>
<line x1="620.5" y1="698.5" x2="620.5" y2="650.9"/>
<line x1="628.5" y1="698.5" x2="628.5" y2="652.9"/>
<line x1="636.5" y1="698.5" x2="636.5" y2="655.9"/>
<line x1="644.5" y1="698.5" x2="644.5" y2="656.9"/>
<line x1="652.5" y1="698.5" x2="652.5" y2="657.9"/>
<line x1="660.5" y1="698.5" x2="660.5" y2="658.9"/>
<line x1="668.5" y1="698.5" x2="668.5" y2="655.9"/>
<line x1="676.5" y1="698.5" x2="676.5" y2="654.9"/>
<line x1="684.5" y1="698.5" x2="684.5" y2="653.9"/>
<line x1="692.5" y1="698.5" x2="692.5" y2="651.9"/>
<line x1="700.5" y1="698.5" x2="700.5" y2="649.9"/>
<line x1="708.5" y1="698.5" x2="708.5" y2="647.9"/>
<line x1="716.5" y1="698.5" x2="716.5" y2="649.9"/>
<line x1="724.5" y1="698.5" x2="724.5" y2="648.9"/>
<line x1="732.5" y1="698.5" x2="732.5" y2="645.9"/>
<line x1="740.5" y1="698.5" x2="740.5" y2="651.9"/>
<line x1="748.5" y1="698.5" x2="748.5" y2="657.9"/>
<line x1="756.5" y1="698.5" x2="756.5" y2="663.9"/>
<line x1="764.5" y1="698.5" x2="764.5" y2="665.9"/>
<line x1="772.5" y1="698.5" x2="772.5" y2="676.8"/>
<line x1="780.5" y1="698.5" x2="780.5" y2="678.8"/>
<line x1="788.5" y1="698.5" x2="788.5" y2="685.8"/>
<line x1="796.5" y1="698.5" x2="796.5" y2="690.8"/>
<line x1="804.5" y1="698.5" x2="804.5" y2="692.8"/>
<line x1="812.5" y1="698.5" x2="812.5" y2="692.8"/>
<line x1="820.5" y1="698.5" x2="820.5" y2="693.8"/>
<line x1="828.5" y1="698.5" x2="828.5" y2="694.8"/>
<line x1="836.5" y1="698.5" x2="836.5" y2="695.8"/>
<line x1="844.5" y1="698.5" x2="844.5" y2="697.5"/>
<line x1="852.5" y1="698.5" x2="852.5" y2="700.8"/>
<line x1="860.5" y1="698.5" x2="860.5" y2="707.8"/>
<line x1="868.5" y1="698.5" x2="868.5" y2="710.8"/>
<line x1="876.5" y1="698.5" x2="876.5" y2="719.8"/>
<line x1="884.5" y1="698.5" x2="884.5" y2="723.8"/>
<line x1="892.5" y1="698.5" x2="892.5" y2="724.8"/>
<line x1="900.5" y1="698.5" x2="900.5" y2="724.8"/>
<line x1="908.5" y1="698.5" x2="908.5" y2="720.8"/>
<line x1="916.5" y1="698.5" x2="916.5" y2="717.8"/>
<line x1="924.5" y1="698.5" x2="924.5" y2="712.8"/>
<line x1="932.5" y1="698.5" x2="932.5" y2="709.8"/>
<line x1="940.5" y1="698.5" x2="940.5" y2="707.8"/>
<line x1="948.5" y1="698.5" x2="948.5" y2="704.8"/>
<line x1="956.5" y1="698.5" x2="956.5" y2="699.5"/>
<line x1="964.5" y1="698.5" x2="964.5" y2="697.5"/>
<line x1="972.5" y1="698.5" x2="972.5" y2="694.8"/>
<line x1="980.5" y1="698.5" x2="980.5" y2="687.8"/>
<line x1="988.5" y1="698.5" x2="988.5" y2="682.8"/>
<line x1="996.5" y1="698.5" x2="996.5" y2="678.8"/>
<line x1="1004.5" y1="698.5" x2="1004.5" y2="672.9"/>
<line x1="1012.5" y1="698.5" x2="1012.5" y2="670.9"/>
<line x1="1020.5" y1="698.5" x2="1020.5" y2="670.9"/>
<line x1="1028.5" y1="698.5" x2="1028.5" y2="670.9"/>
<line x1="1036.5" y1="698.5" x2="1036.5" y2="671.9"/>
<line x1="1044.5" y1="698.5" x2="1044.5" y2="671.9"/>
<line x1="1052.5" y1="698.5" x2="1052.5" y2="674.8"/>
<line x1="1060.5" y1="698.5" x2="1060.5" y2="676.8"/>
<line x1="1068.5" y1="698.5" x2="1068.5" y2="681.8"/>
<line x1="1076.5" y1="698.5" x2="1076.5" y2="682.8"/>
<line x1="1084.5" y1="698.5" x2="1084.5" y2="683.8"/>
<line x1="1092.5" y1="698.5" x2="1092.5" y2="686.8"/>
<line x1="1100.5" y1="698.5" x2="1100.5" y2="693.8"/>
<line x1="1108.5" y1="698.5" x2="1108.5" y2="700.8"/>
<line x1="1116.5" y1="698.5" x2="1116.5" y2="713.8"/>
<line x1="1124.5" y1="698.5" x2="1124.5" y2="724.8"/>
<line x1="1132.5" y1="698.5" x2="1132.5" y2="732.7"/>
<line x1="1140.5" y1="698.5" x2="1140.5" y2="739.7"/>
<line x1="1148.5" y1="698.5" x2="1148.5" y2="739.7"/>
<line x1="1156.5" y1="698.5" x2="1156.5" y2="733.7"/>
<line x1="1164.5" y1="698.5" x2="1164.5" y2="726.8"/>
<line x1="1172.5" y1="698.5" x2="1172.5" y2="715.8"/>
<line x1="1180.5" y1="698.5" x2="1180.5" y2="707.8"/>
<line x1="1188.5" y1="698.5" x2="1188.5" y2="699.5"/>
<line x1="1196.5" y1="698.5" x2="1196.5" y2="686.8"/>
<line x1="1204.5" y1="698.5" x2="1204.5" y2="675.8"/>
<line x1="1212.5" y1="698.5" x2="1212.5" y2="666.9"/>
<line x1="1220.5" y1="698.5" x2="1220.5" y2="662.9"/>
<line x1="1228.5" y1="698.5" x2="1228.5" y2="656.9"/>
<line x1="1236.5" y1="698.5" x2="1236.5" y2="650.9"/>
<line x1="1244.5" y1="698.5" x2="1244.5" y2="643.9"/>
<line x1="1252.5" y1="698.5" x2="1252.5" y2="640.9"/>
<line x1="1260.5" y1="698.5" x2="1260.5" y2="641.9"/>
<line x1="1268.5" y1="698.5" x2="1268.5" y2="644.9"/>
<line x1="1276.5" y1="698.5" x2="1276.5" y2="648.9"/>
<line x1="1284.5" y1="698.5" x2="1284.5" y2="651.9"/>
<line x1="1292.5" y1="698.5" x2="1292.5" y2="649.9"/>
<line x1="1300.5" y1="698.5" x2="1300.5" y2="646.9"/>
<line x1="1308.5" y1="698.5" x2="1308.5" y2="645.9"/>
<line x1="1316.5" y1="698.5" x2="1316.5" y2="645.9"/>
<line x1="1324.5" y1="698.5" x2="1324.5" y2="646.9"/>
<line x1="1332.5" y1="698.5" x2="1332.5" y2="647.9"/>
<line x1="1340.5" y1="698.5" x2="1340.5" y2="649.9"/>
<line x1="1348.5" y1="698.5" x2="1348.5" y2="651.9"/>
<line x1="1356.5" y1="698.5" x2="1356.5" y2="653.9"/>
<line x1="1364.5" y1="698.5" x2="1364.5" y2="653.9"/>
<line x1="1372.5" y1="698.5" x2="1372.5" y2="653.9"/>
<line x1="1380.5" y1="698.5" x2="1380.5" y2="652.9"/>
<line x1="1388.5" y1="698.5" x2="1388.5" y2="654.9"/>
<line x1="1396.5" y1="698.5" x2="1396.5" y2="655.9"/>
<line x1="1404.5" y1="698.5" x2="1404.5" y2="656.9"/>
<line x1="1412.5" y1="698.5" x2="1412.5" y2="658.9"/>
<line x1="1420.5" y1="698.5" x2="1420.5" y2="661.9"/>
<line x1="1428.5" y1="698.5" x2="1428.5" y2="662.9"/>
<line x1="1436.5" y1="698.5" x2="1436.5" y2="665.9"/>
</g>
<polyline fill="none" shape-rendering="crispEdges" stroke="#ff0000" stroke-width="1" points="-4.0,678.8 2.0,679.4 10.0,680.8 20.0,680.8 27.9,680.4 35.9,677.8 43.9,676.8 51.9,674.4 59.9,670.9 67.9,666.9 75.9,663.5 81.9,661.3 87.8,659.5 95.8,656.3 103.8,652.3 111.8,648.9 119.8,644.3 127.8,639.5 135.8,634.9 143.7,629.5 151.7,624.3 159.7,620.5 167.7,619.1 173.7,618.7 181.7,619.9 189.7,621.9 197.6,625.9 205.6,629.9 213.6,636.9 221.6,643.9 229.6,650.9 237.6,656.9 245.6,660.3 253.5,664.9 261.5,668.9 269.5,672.9 277.5,678.8 285.5,683.4 293.5,687.2 301.5,690.4 309.4,692.8 317.4,695.4 325.4,696.8 333.4,697.2 340.0,696.2 348.0,695.2 356.0,694.2 364.0,693.2 371.9,691.8 379.9,689.8 387.9,687.8 395.9,685.8 403.9,683.4 411.9,681.2 419.9,679.2 427.8,676.2 435.8,674.2 443.8,671.9 451.8,670.3 459.8,669.5 467.8,669.5 475.8,669.5 483.7,670.3 491.7,671.5 499.7,673.3 507.7,675.4 515.7,676.8 523.7,679.2 531.7,680.4 539.6,681.2 547.6,681.2 555.6,680.4 563.6,677.8 571.6,676.4 579.6,674.2 587.6,670.9 595.5,666.9 603.5,663.3 611.5,660.9 619.5,657.9 627.5,655.3 635.5,654.3 643.5,653.5 651.4,653.5 659.4,653.5 667.4,653.9 675.4,654.3 680.0,654.3 688.0,655.5 696.0,654.9 704.0,653.5 711.9,653.3 719.9,652.9 727.9,651.9 733.9,650.3 741.9,650.3 749.9,650.3 757.9,651.9 765.8,653.9 773.8,656.9 781.8,659.9 789.8,664.3 797.8,668.9 805.8,673.8 813.8,677.8 821.7,681.8 829.7,685.8 837.7,688.2 845.7,691.8 853.7,693.8 861.7,696.2 869.7,698.8 877.6,701.8 885.6,705.8 893.6,709.4 901.6,712.8 909.6,715.4 917.6,717.4 925.6,718.8 933.5,719.4 941.5,718.2 949.5,716.8 957.5,713.8 965.5,710.4 973.5,706.8 981.5,703.4 989.4,699.8 997.4,696.8 1005.4,691.8 1013.4,687.8 1020.0,683.4 1028.0,680.8 1036.0,677.2 1044.0,674.8 1051.9,673.3 1059.9,672.3 1067.9,673.3 1075.9,674.4 1083.9,675.4 1091.9,676.8 1099.9,679.8 1107.8,682.8 1115.8,687.8 1123.8,692.8 1131.8,698.8 1139.8,705.4 1147.8,711.8 1155.8,717.4 1163.7,723.8 1171.7,726.2 1179.7,726.2 1187.7,725.4 1195.7,719.8 1203.7,714.8 1211.7,707.8 1219.6,698.8 1227.6,689.8 1235.6,680.8 1243.6,671.9 1251.6,664.3 1259.6,658.9 1267.6,653.9 1275.5,650.3 1283.5,648.5 1291.5,647.9 1299.5,646.5 1307.5,645.5 1315.5,645.3 1323.5,646.5 1331.4,647.3 1340.0,647.9 1348.0,647.5 1356.0,648.3 1364.0,648.3 1371.9,649.3 1379.9,650.3 1387.9,651.3 1395.9,652.5 1403.9,653.5 1411.9,654.3 1419.9,655.5 1427.8,656.5 1436.6,657.5" stroke-dasharray="3 2.6"/>
<text x="1" y="605" font-size="9.4" fill="#000" class="s" textLength="127" lengthAdjust="spacingAndGlyphs">MACD(12,26,9) 293.77 363.27</text>
<line x1="2" y1="786.5" x2="1686" y2="786.5" stroke="#c0c0c0" stroke-width="1" stroke-dasharray="3 3"/>
<line x1="2" y1="837.5" x2="1686" y2="837.5" stroke="#c0c0c0" stroke-width="1" stroke-dasharray="3 3"/>
<line x1="2" y1="898.5" x2="1686" y2="898.5" stroke="#c0c0c0" stroke-width="1" stroke-dasharray="3 3"/>
<polyline fill="none" shape-rendering="crispEdges" stroke="#1e90ff" stroke-width="1" points="4.5,829.3 12.5,825.5 20.5,825.5 28.5,826.5 36.5,824.5 44.5,822.3 52.5,817.9 60.5,807.5 68.5,815.3 76.5,813.5 84.5,819.5 92.5,818.5 100.5,810.9 108.5,803.3 116.5,806.5 124.5,796.3 132.5,794.3 140.5,792.3 148.5,796.9 156.5,813.5 164.5,840.4 172.5,837.4 180.5,842.4 188.5,829.3 196.5,827.3 204.5,833.4 212.5,830.5 220.5,839.2 228.5,840.4 236.5,830.3 244.5,831.9 252.5,843.2 260.5,839.4 268.5,848.2 276.5,849.4 284.5,837.2 292.5,836.2 300.5,837.2 308.5,834.4 316.5,836.4 324.5,832.5 332.5,825.5 340.5,834.4 348.5,831.5 356.5,837.4 364.5,831.5 372.5,830.5 380.5,830.5 388.5,817.5 396.5,817.5 404.5,821.3 412.5,824.5 420.5,822.5 428.5,822.5 436.5,818.5 444.5,817.5 452.5,827.5 460.5,834.4 468.5,834.4 476.5,828.5 484.5,835.4 492.5,832.3 500.5,832.3 508.5,835.4 516.5,835.4 524.5,826.9 532.5,822.9 540.5,812.3 548.5,808.3 556.5,806.5 564.5,807.5 572.5,799.3 580.5,800.5 588.5,796.5 596.5,796.5 604.5,801.3 612.5,799.3 620.5,802.3 628.5,807.9 636.5,818.3 644.5,812.9 652.5,809.5 660.5,807.5 668.5,797.5 676.5,803.5 684.5,800.3 692.5,795.5 700.5,794.3 708.5,791.3 716.5,810.3 724.5,803.5 732.5,795.5 740.5,832.3 748.5,834.4 756.5,834.4 764.5,827.5 772.5,850.4 780.5,835.4 788.5,844.4 796.5,844.4 804.5,839.8 812.5,835.4 820.5,838.2 828.5,836.2 836.5,840.4 844.5,845.4 852.5,846.8 860.5,857.4 868.5,852.8 876.5,865.4 884.5,857.8 892.5,851.4 900.5,849.2 908.5,837.2 916.5,840.8 924.5,832.3 932.5,834.2 940.5,838.2 948.5,832.3 956.5,827.5 964.5,837.4 972.5,823.3 980.5,819.3 988.5,817.5 996.5,819.5 1004.5,813.5 1012.5,818.3 1020.5,824.5 1028.5,824.5 1036.5,825.5 1044.5,822.3 1052.5,833.3 1060.5,831.5 1068.5,841.4 1076.5,831.5 1084.5,835.4 1092.5,838.2 1100.5,853.2 1108.5,861.4 1116.5,872.4 1124.5,875.4 1132.5,873.4 1140.5,876.4 1148.5,854.4 1156.5,837.4 1164.5,834.4 1172.5,823.5 1180.5,823.5 1188.5,818.9 1196.5,809.5 1204.5,806.5 1212.5,806.5 1220.5,815.3 1228.5,808.5 1236.5,805.5 1244.5,802.3 1252.5,806.3 1260.5,817.3 1268.5,823.3 1276.5,824.5 1284.5,822.5 1292.5,813.3 1300.5,807.5 1308.5,813.3 1316.5,816.5 1324.5,814.5 1332.5,814.5 1340.5,820.7 1348.5,819.2 1356.5,817.6 1364.5,814.6 1372.5,810.1 1380.5,808.5 1388.5,818.0 1396.5,813.5 1404.5,818.0 1412.5,819.4 1420.5,819.4 1428.5,815.3 1436.5,827.1"/>
<polyline fill="none" shape-rendering="crispEdges" stroke="#1e90ff" stroke-width="1" points="-3.5,825.0 4.5,829.3"/>
<text x="1" y="763" font-size="9.4" fill="#000" class="s" textLength="67" lengthAdjust="spacingAndGlyphs">RSI(14) 55.5157</text>
<g stroke="#000" stroke-width="1" shape-rendering="crispEdges">
<line x1="0" y1="23.5" x2="1687" y2="23.5"/>
<line x1="1686.5" y1="23" x2="1686.5" y2="925"/>
<line x1="0" y1="590.5" x2="1687" y2="590.5"/>
<line x1="0" y1="592.5" x2="1687" y2="592.5"/>
<line x1="0" y1="748.5" x2="1687" y2="748.5"/>
<line x1="0" y1="750.5" x2="1687" y2="750.5"/>
<line x1="0" y1="924.5" x2="1687" y2="924.5"/>
</g>
<rect x="0" y="591" width="1733" height="1" fill="#fff"/><rect x="0" y="749" width="1733" height="1" fill="#fff"/>
<rect x="1732" y="21" width="1" height="919" fill="#e4e4e4"/>
<g stroke="#000" stroke-width="1" shape-rendering="crispEdges">
<line x1="1687" y1="26.5" x2="1689" y2="26.5"/>
<line x1="1687" y1="59.5" x2="1689" y2="59.5"/>
<line x1="1687" y1="92.5" x2="1689" y2="92.5"/>
<line x1="1687" y1="125.5" x2="1689" y2="125.5"/>
<line x1="1687" y1="158.5" x2="1689" y2="158.5"/>
<line x1="1687" y1="191.5" x2="1689" y2="191.5"/>
<line x1="1687" y1="224.5" x2="1689" y2="224.5"/>
<line x1="1687" y1="257.5" x2="1689" y2="257.5"/>
<line x1="1687" y1="290.5" x2="1689" y2="290.5"/>
<line x1="1687" y1="323.5" x2="1689" y2="323.5"/>
<line x1="1687" y1="356.5" x2="1689" y2="356.5"/>
<line x1="1687" y1="389.5" x2="1689" y2="389.5"/>
<line x1="1687" y1="422.5" x2="1689" y2="422.5"/>
<line x1="1687" y1="455.5" x2="1689" y2="455.5"/>
<line x1="1687" y1="488.5" x2="1689" y2="488.5"/>
<line x1="1687" y1="521.5" x2="1689" y2="521.5"/>
<line x1="1687" y1="554.5" x2="1689" y2="554.5"/>
<line x1="1687" y1="587.5" x2="1689" y2="587.5"/>
<line x1="1687" y1="594.5" x2="1689" y2="594.5"/>
<line x1="1687" y1="698.5" x2="1689" y2="698.5"/>
<line x1="1687" y1="746.5" x2="1689" y2="746.5"/>
<line x1="1687" y1="752.5" x2="1689" y2="752.5"/>
<line x1="-3.5" y1="925" x2="-3.5" y2="928"/>
<line x1="60.5" y1="925" x2="60.5" y2="928"/>
<line x1="124.5" y1="925" x2="124.5" y2="928"/>
<line x1="188.5" y1="925" x2="188.5" y2="928"/>
<line x1="252.5" y1="925" x2="252.5" y2="928"/>
<line x1="316.5" y1="925" x2="316.5" y2="928"/>
<line x1="380.5" y1="925" x2="380.5" y2="928"/>
<line x1="444.5" y1="925" x2="444.5" y2="928"/>
<line x1="508.5" y1="925" x2="508.5" y2="928"/>
<line x1="572.5" y1="925" x2="572.5" y2="928"/>
<line x1="636.5" y1="925" x2="636.5" y2="928"/>
<line x1="700.5" y1="925" x2="700.5" y2="928"/>
<line x1="764.5" y1="925" x2="764.5" y2="928"/>
<line x1="828.5" y1="925" x2="828.5" y2="928"/>
<line x1="892.5" y1="925" x2="892.5" y2="928"/>
<line x1="956.5" y1="925" x2="956.5" y2="928"/>
<line x1="1020.5" y1="925" x2="1020.5" y2="928"/>
<line x1="1084.5" y1="925" x2="1084.5" y2="928"/>
<line x1="1148.5" y1="925" x2="1148.5" y2="928"/>
<line x1="1212.5" y1="925" x2="1212.5" y2="928"/>
<line x1="1276.5" y1="925" x2="1276.5" y2="928"/>
<line x1="1340.5" y1="925" x2="1340.5" y2="928"/>
<line x1="1404.5" y1="925" x2="1404.5" y2="928"/>
</g>
<text x="1691.5" y="30.0" font-size="9.4" fill="#000" class="s" textLength="33.5" lengthAdjust="spacingAndGlyphs">30636.0</text>
<text x="1691.5" y="63.0" font-size="9.4" fill="#000" class="s" textLength="33.5" lengthAdjust="spacingAndGlyphs">30223.5</text>
<text x="1691.5" y="96.0" font-size="9.4" fill="#000" class="s" textLength="33.5" lengthAdjust="spacingAndGlyphs">29798.5</text>
<text x="1691.5" y="129.0" font-size="9.4" fill="#000" class="s" textLength="33.5" lengthAdjust="spacingAndGlyphs">29386.0</text>
<text x="1691.5" y="162.0" font-size="9.4" fill="#000" class="s" textLength="33.5" lengthAdjust="spacingAndGlyphs">28961.0</text>
<text x="1691.5" y="195.0" font-size="9.4" fill="#000" class="s" textLength="33.5" lengthAdjust="spacingAndGlyphs">28548.5</text>
<text x="1691.5" y="228.0" font-size="9.4" fill="#000" class="s" textLength="33.5" lengthAdjust="spacingAndGlyphs">28136.0</text>
<text x="1691.5" y="261.0" font-size="9.4" fill="#000" class="s" textLength="33.5" lengthAdjust="spacingAndGlyphs">27711.0</text>
<text x="1691.5" y="294.0" font-size="9.4" fill="#000" class="s" textLength="33.5" lengthAdjust="spacingAndGlyphs">27298.5</text>
<text x="1691.5" y="327.0" font-size="9.4" fill="#000" class="s" textLength="33.5" lengthAdjust="spacingAndGlyphs">26886.0</text>
<text x="1691.5" y="360.0" font-size="9.4" fill="#000" class="s" textLength="33.5" lengthAdjust="spacingAndGlyphs">26461.0</text>
<text x="1691.5" y="393.0" font-size="9.4" fill="#000" class="s" textLength="33.5" lengthAdjust="spacingAndGlyphs">26048.5</text>
<text x="1691.5" y="426.0" font-size="9.4" fill="#000" class="s" textLength="33.5" lengthAdjust="spacingAndGlyphs">25623.5</text>
<text x="1691.5" y="459.0" font-size="9.4" fill="#000" class="s" textLength="33.5" lengthAdjust="spacingAndGlyphs">25211.0</text>
<text x="1691.5" y="492.0" font-size="9.4" fill="#000" class="s" textLength="33.5" lengthAdjust="spacingAndGlyphs">24798.5</text>
<text x="1691.5" y="525.0" font-size="9.4" fill="#000" class="s" textLength="33.5" lengthAdjust="spacingAndGlyphs">24373.5</text>
<text x="1691.5" y="558.0" font-size="9.4" fill="#000" class="s" textLength="33.5" lengthAdjust="spacingAndGlyphs">23961.0</text>
<text x="1691.5" y="591.0" font-size="9.4" fill="#000" class="s" textLength="33.5" lengthAdjust="spacingAndGlyphs">23548.5</text>
<text x="1690" y="603.3" font-size="9.4" fill="#000" class="s" textLength="28.5" lengthAdjust="spacingAndGlyphs">929.45</text>
<text x="1690" y="702.2" font-size="9.4" fill="#000" class="s" textLength="18.5" lengthAdjust="spacingAndGlyphs">0.00</text>
<text x="1690" y="745.5" font-size="9.4" fill="#000" class="s" textLength="32" lengthAdjust="spacingAndGlyphs">-436.65</text>
<text x="1690" y="761.2" font-size="9.4" fill="#000" class="s" textLength="15.5" lengthAdjust="spacingAndGlyphs">100</text>
<text x="1690" y="790" font-size="9.4" fill="#000" class="s" textLength="10.5" lengthAdjust="spacingAndGlyphs">80</text>
<text x="1690" y="841" font-size="9.4" fill="#000" class="s" textLength="10.5" lengthAdjust="spacingAndGlyphs">50</text>
<text x="1690" y="902" font-size="9.4" fill="#000" class="s" textLength="10.5" lengthAdjust="spacingAndGlyphs">15</text>
<text x="1690" y="921.3" font-size="9.4" fill="#000" class="s" textLength="5.2" lengthAdjust="spacingAndGlyphs">0</text>
<rect x="1688" y="42.9" width="41" height="11" fill="#ff0000"/>
<text x="1692" y="52.1" font-size="9.8" fill="#fff" class="w" textLength="33" lengthAdjust="spacingAndGlyphs">30346.5</text>
<rect x="1688" y="55.0" width="41" height="11" fill="#ff0000"/>
<text x="1692" y="64.2" font-size="9.8" fill="#fff" class="w" textLength="33" lengthAdjust="spacingAndGlyphs">30188.0</text>
<rect x="1688" y="68.7" width="41" height="11" fill="#32cd32"/>
<text x="1692" y="77.9" font-size="9.8" fill="#fff" class="w" textLength="33" lengthAdjust="spacingAndGlyphs">30018.4</text>
<rect x="1688" y="79.7" width="41" height="8.9" fill="#000"/>
<text x="1692" y="87.1" font-size="9.8" fill="#fff" class="w" textLength="33" lengthAdjust="spacingAndGlyphs">29912.0</text>
<rect x="1688" y="94.0" width="41" height="11" fill="#0000ff"/>
<text x="1692" y="103.2" font-size="9.8" fill="#fff" class="w" textLength="33" lengthAdjust="spacingAndGlyphs">29695.7</text>
<rect x="1688" y="109.9" width="41" height="11" fill="#0000ff"/>
<text x="1692" y="119.10000000000001" font-size="9.8" fill="#fff" class="w" textLength="33" lengthAdjust="spacingAndGlyphs">29502.6</text>
<text transform="translate(-5.3,936.9) scale(1.015,1)" font-size="9.4" fill="#000" class="s">18 May 2020</text>
<text transform="translate(58.7,936.9) scale(1.015,1)" font-size="9.4" fill="#000" class="s">27 May 2020</text>
<text transform="translate(122.7,936.9) scale(1.015,1)" font-size="9.4" fill="#000" class="s">5 Jun 2020</text>
<text transform="translate(186.7,936.9) scale(1.015,1)" font-size="9.4" fill="#000" class="s">15 Jun 2020</text>
<text transform="translate(250.7,936.9) scale(1.015,1)" font-size="9.4" fill="#000" class="s">24 Jun 2020</text>
<text transform="translate(314.7,936.9) scale(1.015,1)" font-size="9.4" fill="#000" class="s">3 Jul 2020</text>
<text transform="translate(378.7,936.9) scale(1.015,1)" font-size="9.4" fill="#000" class="s">13 Jul 2020</text>
<text transform="translate(442.7,936.9) scale(1.015,1)" font-size="9.4" fill="#000" class="s">22 Jul 2020</text>
<text transform="translate(506.7,936.9) scale(1.015,1)" font-size="9.4" fill="#000" class="s">31 Jul 2020</text>
<text transform="translate(570.7,936.9) scale(1.015,1)" font-size="9.4" fill="#000" class="s">10 Aug 2020</text>
<text transform="translate(634.7,936.9) scale(1.015,1)" font-size="9.4" fill="#000" class="s">19 Aug 2020</text>
<text transform="translate(698.7,936.9) scale(1.015,1)" font-size="9.4" fill="#000" class="s">28 Aug 2020</text>
<text transform="translate(762.7,936.9) scale(1.015,1)" font-size="9.4" fill="#000" class="s">7 Sep 2020</text>
<text transform="translate(826.7,936.9) scale(1.015,1)" font-size="9.4" fill="#000" class="s">16 Sep 2020</text>
<text transform="translate(890.7,936.9) scale(1.015,1)" font-size="9.4" fill="#000" class="s">25 Sep 2020</text>
<text transform="translate(954.7,936.9) scale(1.015,1)" font-size="9.4" fill="#000" class="s">5 Oct 2020</text>
<text transform="translate(1018.7,936.9) scale(1.015,1)" font-size="9.4" fill="#000" class="s">14 Oct 2020</text>
<text transform="translate(1082.7,936.9) scale(1.015,1)" font-size="9.4" fill="#000" class="s">23 Oct 2020</text>
<text transform="translate(1146.7,936.9) scale(1.015,1)" font-size="9.4" fill="#000" class="s">2 Nov 2020</text>
<text transform="translate(1210.7,936.9) scale(1.015,1)" font-size="9.4" fill="#000" class="s">11 Nov 2020</text>
<text transform="translate(1274.7,936.9) scale(1.015,1)" font-size="9.4" fill="#000" class="s">20 Nov 2020</text>
<text transform="translate(1338.7,936.9) scale(1.015,1)" font-size="9.4" fill="#000" class="s">30 Nov 2020</text>
<text transform="translate(1402.7,936.9) scale(1.015,1)" font-size="9.4" fill="#000" class="s">9 Dec 2020</text>
<polygon points="0,34 6.4,34 3.2,30" fill="#000"/>
<text x="11" y="34.6" font-size="9.5" fill="#000" class="s" textLength="49.5" lengthAdjust="spacingAndGlyphs">DJ30-,Daily</text>
<text x="65.8" y="34.6" font-size="9.5" fill="#000" class="s" textLength="141.5" lengthAdjust="spacingAndGlyphs">30183.0 30322.0 29849.0 29912.0</text>
<rect x="0" y="43" width="218" height="64" fill="#fff"/>
<path d="M0,43 H50.6 V67.2 H108 V106.8 H0 Z" fill="url(#gp)"/>
<path d="M217.6,43 H166.8 V67.2 H110.2 V106.8 H217.6 Z" fill="url(#gp)"/>
<path d="M50.6,43.5 V67.2 H108 V106.5 H0" fill="none" stroke="#a80000" stroke-width="0.8" opacity="0.7"/>
<path d="M166.8,43.5 V67.2 H110.4 V106.5 H217.4 V43.5" fill="none" stroke="#a80000" stroke-width="0.8" opacity="0.7"/>
<rect x="3" y="66" width="44" height="1" fill="#8e0000"/><rect x="3" y="67" width="44" height="1" fill="#f07070"/>
<rect x="170" y="66" width="44" height="1" fill="#8e0000"/><rect x="170" y="67" width="44" height="1" fill="#f07070"/>
<rect x="53.5" y="43.5" width="110.5" height="21" rx="1.5" fill="#fff" stroke="#a4abb3" stroke-width="1"/>
<rect x="54.5" y="44.5" width="19" height="19" fill="url(#gb)"/><rect x="143.5" y="44.5" width="19.5" height="19" fill="url(#gb)"/>
<line x1="74" y1="44" x2="74" y2="64" stroke="#a4abb3"/><line x1="143" y1="44" x2="143" y2="64" stroke="#a4abb3"/>
<polygon points="60.8,52 66.4,52 63.6,55.2" fill="#4c5cc0"/><polygon points="150,55 155.6,55 152.8,51.8" fill="#4c5cc0"/>
<text x="138.6" y="57.8" font-size="11.8" fill="#000" text-anchor="end" textLength="23" lengthAdjust="spacingAndGlyphs">1.00</text>
<text x="11" y="58.9" font-size="12" fill="#fff" textLength="27" lengthAdjust="spacingAndGlyphs">SELL</text>
<text x="179" y="58.9" font-size="12" fill="#fff" textLength="24.5" lengthAdjust="spacingAndGlyphs">BUY</text>
<text x="14.5" y="97.8" font-size="12.3" fill="#fff" font-weight="bold" textLength="35.5" lengthAdjust="spacingAndGlyphs">29910</text>
<text x="125" y="97.8" font-size="12.3" fill="#fff" font-weight="bold" textLength="35.5" lengthAdjust="spacingAndGlyphs">29921</text>
<text x="51.5" y="98" font-size="34" fill="#fff">.</text>
<text x="60.4" y="98" font-size="34" fill="#fff" textLength="17.2" lengthAdjust="spacingAndGlyphs">5</text>
<text x="162.3" y="98" font-size="34" fill="#fff">.</text>
<text x="171.2" y="98" font-size="34" fill="#fff" textLength="17.2" lengthAdjust="spacingAndGlyphs">5</text>
<rect x="0" y="0" width="1733" height="18.6" fill="#f0f0f0"/>
<rect x="0" y="18.4" width="1733" height="2.6" fill="url(#gt)"/>
<g clip-path="url(#cp)">
<defs>
<linearGradient id="gold" x1="0" y1="0" x2="1" y2="1"><stop offset="0" stop-color="#fbe060"/><stop offset="0.5" stop-color="#e8b820"/><stop offset="1" stop-color="#a86c08"/></linearGradient>
<linearGradient id="gplus" x1="0" y1="0" x2="0" y2="1"><stop offset="0" stop-color="#38e038"/><stop offset="1" stop-color="#109a10"/></linearGradient>
<radialGradient id="gclk" cx="0.5" cy="0.4" r="0.6"><stop offset="0" stop-color="#ffffff"/><stop offset="1" stop-color="#dfe8f4"/></radialGradient>
<linearGradient id="gring" x1="0.2" y1="0" x2="0.8" y2="1"><stop offset="0" stop-color="#3fa2f6"/><stop offset="0.5" stop-color="#1c62d4"/><stop offset="1" stop-color="#0c3a9a"/></linearGradient>
<linearGradient id="gyel" x1="0" y1="0" x2="0" y2="1"><stop offset="0" stop-color="#fcf080"/><stop offset="1" stop-color="#e8b418"/></linearGradient>
</defs>
<rect x="-6" y="-4" width="15" height="17" fill="#fff" stroke="#3c6cc4" stroke-width="1.4"/>
<line x1="-5" y1="2.5" x2="8" y2="2.5" stroke="#a8c0f0" stroke-width="1"/>
<line x1="-5" y1="5" x2="8" y2="5" stroke="#a8c0f0" stroke-width="1"/>
<line x1="-5" y1="7.4" x2="8" y2="7.4" stroke="#a8c0f0" stroke-width="1"/>
<line x1="-5" y1="9.4" x2="8" y2="9.4" stroke="#a8c0f0" stroke-width="1"/>
<rect x="22.5" y="-2" width="11.5" height="14.3" fill="#f6f2ec" stroke="#b4a48c" stroke-width="0.9"/>
<path d="M25.5,1.5 v5 M28.5,1.5 v5 M31.5,1 v4" stroke="#7a7a7a" stroke-width="1" fill="none"/>
<line x1="34" y1="11.6" x2="39.2" y2="16" stroke="#c09418" stroke-width="2.6" stroke-linecap="round"/>
<circle cx="30.2" cy="8" r="4.9" fill="#c9d6e4" fill-opacity="0.85" stroke="#6c9ae4" stroke-width="1.1"/>
<path d="M28.5,6 v4 M31,5.5 v4.5" stroke="#8c98a8" stroke-width="1.3"/>
<line x1="47.5" y1="0" x2="47.5" y2="16.6" stroke="#a6a6a6"/>
<path d="M57.5,-1 H65.5 L68.6,2.4 V12.4 H57.5 Z" fill="#fff" stroke="#8e8e8e" stroke-width="0.9"/>
<path d="M59.5,2 h2.6 M59.5,5.2 h6 M59.5,7.2 h5" stroke="#7c7c7c" stroke-width="1"/>
<path d="M65.2,5.9 h3.6 v3.5 h3.9 v3.6 h-3.9 v3.6 h-3.6 v-3.6 h-3.9 v-3.6 h3.9 z" fill="url(#gplus)" stroke="#0c8a0c" stroke-width="0.7"/>
<text x="75.6" y="10" font-size="12.2" fill="#000" textLength="36.4" lengthAdjust="spacingAndGlyphs">新订单</text>
<polygon points="124,8.7 129.9,-0.5 139.6,8 132.3,14.5" fill="url(#gold)" stroke="#b47c10" stroke-width="0.8"/>
<path d="M124.4,9.6 L132.2,15.3 L139.4,9" fill="none" stroke="#9a6408" stroke-width="0.9"/>
<rect x="154.2" y="-2" width="10.6" height="10" fill="#2a8cf0"/><rect x="157.5" y="0.5" width="7" height="5.5" fill="#58a8f8"/><path d="M159,3.2 h4.2" stroke="#e8f2ff" stroke-width="1.1"/>
<path d="M154.8,14.3 a3,3 0 0 1 -0.4,-5.6 a3.4,3.4 0 0 1 5.4,-1.6 a3.6,3.6 0 0 1 5.4,1.2 a2.8,3 0 0 1 0.6,6 z" fill="#e6edf6" stroke="#4f6fb0" stroke-width="0.9"/>
<path d="M188.1,6.9 L188.1,14.8 A7.9,7.9 0 0 0 195.9,5.6 Z" fill="#46b04a" fill-opacity="0.75"/>
<circle cx="188.1" cy="6.9" r="7.5" fill="none" stroke="#86a6e4" stroke-width="1" stroke-opacity="0.8"/>
<circle cx="188.1" cy="6.9" r="5" fill="none" stroke="#6e94e0" stroke-width="1.1" stroke-opacity="0.9"/>
<path d="M188.1,6.9 V14.8" stroke="#20a020" stroke-width="1.3"/>
<circle cx="188.1" cy="6.6" r="2.1" fill="#2458d0"/>
<polygon points="207.6,5 223,5 217,14.6 213.4,14.6" fill="url(#gyel)" stroke="#d8a818" stroke-width="0.6"/>
<ellipse cx="215.2" cy="3.2" rx="8" ry="2.7" fill="#4aa2e6"/><path d="M211.6,3 Q213,-4 215.2,-4 Q217.4,-4 218.8,3 Z" fill="#6ab6ee"/>
<circle cx="219.6" cy="10.8" r="3.9" fill="#e0200c"/><rect x="218.2" y="9.4" width="2.8" height="2.8" fill="#fff"/>
<text x="228.6" y="10" font-size="12.2" fill="#000" textLength="47" lengthAdjust="spacingAndGlyphs">自动交易</text>
<line x1="282.5" y1="0" x2="282.5" y2="18" stroke="#c4c4c4"/>
<line x1="288" y1="1" x2="288" y2="16" stroke="#b4b4b4" stroke-width="3" stroke-dasharray="1 1"/>
<path d="M301.5,2 V14.6 M298.9,12.6 H311.5" stroke="#555" stroke-width="1" fill="none"/>
<path d="M299.8,3.4 L301.5,0.8 L303.2,3.4 Z M310.7,10.9 L313.3,12.6 L310.7,14.3 Z" fill="#555"/>
<path d="M307.6,2.6 V10.6 M305.2,9.4 H307.6 M307.6,3.2 H310" stroke="#12a012" stroke-width="1.4" fill="none"/>
<line x1="321.5" y1="0" x2="321.5" y2="17.6" stroke="#a6a6a6"/>
<rect x="322.5" y="0" width="23" height="17" fill="#f8f8f8"/>
<path d="M329.5,2 V14.6 M326.9,12.6 H339.5" stroke="#555" stroke-width="1" fill="none"/>
<path d="M327.8,3.4 L329.5,0.8 L331.2,3.4 Z M338.7,10.9 L341.3,12.6 L338.7,14.3 Z" fill="#555"/>
<path d="M335.5,0 V10.8" stroke="#129a12" stroke-width="1.2"/><rect x="333.5" y="1.6" width="4" height="7" fill="#34e048" stroke="#129a12" stroke-width="0.9"/>
<path d="M357.5,2 V14.6 M354.9,12.6 H367.5" stroke="#555" stroke-width="1" fill="none"/>
<path d="M355.8,3.4 L357.5,0.8 L359.2,3.4 Z M366.7,10.9 L369.3,12.6 L366.7,14.3 Z" fill="#555"/>
<path d="M356.2,9.8 Q359.5,5.2 362.4,4.3 Q364.5,4.6 368,8.4" stroke="#30a030" stroke-width="1.1" fill="none"/>
<line x1="378.5" y1="0" x2="378.5" y2="17.6" stroke="#a6a6a6"/>
<line x1="397.79999999999995" y1="9.4" x2="402.0" y2="13.4" stroke="#b88a10" stroke-width="3.8" stroke-linecap="butt"/>
<line x1="397.79999999999995" y1="9.4" x2="401.79999999999995" y2="13.2" stroke="#f0d040" stroke-width="2" stroke-linecap="butt"/>
<circle cx="393.0" cy="4.6" r="5.6" fill="#d2e8fb" stroke="#4a84d8" stroke-width="1.5"/>
<path d="M389.79999999999995,4.8 H396.2" stroke="#4a78b4" stroke-width="2"/>
<path d="M393.0,1.6 V8" stroke="#4a78b4" stroke-width="2"/>
<line x1="425.59999999999997" y1="9.4" x2="429.8" y2="13.4" stroke="#b88a10" stroke-width="3.8" stroke-linecap="butt"/>
<line x1="425.59999999999997" y1="9.4" x2="429.59999999999997" y2="13.2" stroke="#f0d040" stroke-width="2" stroke-linecap="butt"/>
<circle cx="420.8" cy="4.6" r="5.6" fill="#d2e8fb" stroke="#4a84d8" stroke-width="1.5"/>
<path d="M417.59999999999997,4.8 H424.0" stroke="#4a78b4" stroke-width="2"/>
<rect x="443.2" y="-0.6" width="7.8" height="7.4" fill="#34a012"/><rect x="444.5" y="2.0" width="5.4" height="3.6" fill="#f4f8ff"/><rect x="445.5" y="3.0" width="3.4" height="1" fill="#34a012" fill-opacity="0.55"/>
<rect x="451.2" y="-0.6" width="7.8" height="7.4" fill="#2454d4"/><rect x="452.5" y="2.0" width="5.4" height="3.6" fill="#f4f8ff"/><rect x="453.5" y="3.0" width="3.4" height="1" fill="#2454d4" fill-opacity="0.55"/>
<rect x="443.2" y="7" width="7.8" height="7.4" fill="#2454d4"/><rect x="444.5" y="9.6" width="5.4" height="3.6" fill="#f4f8ff"/><rect x="445.5" y="10.6" width="3.4" height="1" fill="#2454d4" fill-opacity="0.55"/>
<rect x="451.2" y="7" width="7.8" height="7.4" fill="#34a012"/><rect x="452.5" y="9.6" width="5.4" height="3.6" fill="#f4f8ff"/><rect x="453.5" y="10.6" width="3.4" height="1" fill="#34a012" fill-opacity="0.55"/>
<line x1="468.5" y1="0" x2="468.5" y2="17.6" stroke="#a6a6a6"/>
<line x1="473.5" y1="0" x2="473.5" y2="17.6" stroke="#a6a6a6"/>
<rect x="474.5" y="0" width="23.5" height="17" fill="#f8f8f8"/>
<path d="M481.5,2 V14.6 M478.9,12.6 H491.5" stroke="#555" stroke-width="1" fill="none"/>
<path d="M479.8,3.4 L481.5,0.8 L483.2,3.4 Z M490.7,10.9 L493.3,12.6 L490.7,14.3 Z" fill="#555"/>
<polygon points="486.3,3.4 490,6.6 486.3,9.6" fill="#5ce07c" stroke="#1ea234" stroke-width="0.9"/>
<line x1="501.5" y1="0" x2="501.5" y2="17.6" stroke="#a6a6a6"/>
<rect x="502.5" y="0" width="24" height="17" fill="#f8f8f8"/>
<path d="M509.5,2 V14.6 M506.9,12.6 H519.5" stroke="#555" stroke-width="1" fill="none"/>
<path d="M507.8,3.4 L509.5,0.8 L511.2,3.4 Z M518.7,10.9 L521.3,12.6 L518.7,14.3 Z" fill="#555"/>
<path d="M515.5,1 V11.5" stroke="#2a62c8" stroke-width="1.1"/><path d="M521,6.5 H517 M518.8,4.6 L516.6,6.5 L518.8,8.4" stroke="#d03010" stroke-width="1.1" fill="none"/>
<line x1="530.5" y1="0" x2="530.5" y2="17.6" stroke="#a6a6a6"/>
<path d="M540.5,-1 H548 L551,2.4 V12 H540.5 Z" fill="#fff" stroke="#8e8e8e" stroke-width="0.9"/><path d="M543,3 v6 M543,6 h2" stroke="#8a8a8a" stroke-width="0.9"/>
<path d="M548.2,5.5 h3.7 v3.4 h4 v3.7 h-4 v4 h-3.7 v-4 h-4 v-3.7 h4 z" fill="url(#gplus)" stroke="#0c8a0c" stroke-width="0.7"/>
<polygon points="561.8000000000001,5.8 567.4,5.8 564.6,8.8" fill="#000"/>
<rect x="584.6" y="-2" width="3" height="2.6" fill="#2a72dc"/><circle cx="586.1" cy="6.9" r="6.9" fill="url(#gclk)" stroke="url(#gring)" stroke-width="2.4"/><circle cx="586.1" cy="6.9" r="4.6" fill="none" stroke="#9aa4b4" stroke-width="0.8" stroke-dasharray="0.8 1.6"/>
<path d="M585.8,3.4 V7.2 H589" stroke="#111" stroke-width="1.2" fill="none"/>
<polygon points="600.7,5.8 606.3,5.8 603.5,8.8" fill="#000"/>
<rect x="617.5" y="-1" width="15.3" height="14.6" rx="1" fill="#fff" stroke="#2f6cd0" stroke-width="1.2"/><rect x="617.5" y="-1" width="15.3" height="2.6" fill="#3a78dc"/>
<path d="M618.5,8.3 H632" stroke="#8ab0ec" stroke-width="0.9"/>
<path d="M619.2,6.6 L622.6,5.5 L624.7,4.5 L627.5,5.4 L631,4.4" stroke="#a42410" stroke-width="1.5" fill="none"/>
<path d="M619.9,11.1 L622.6,10.4 L625,11.4 L628.2,9.3 L631,11.4" stroke="#12941e" stroke-width="1.4" fill="none"/>
<polygon points="639.5,5.8 645.0999999999999,5.8 642.3,8.8" fill="#000"/>
<line x1="651.5" y1="0" x2="651.5" y2="18" stroke="#a0a0a0"/>
<line x1="656.8" y1="1" x2="656.8" y2="16" stroke="#b4b4b4" stroke-width="3" stroke-dasharray="1 1"/>
<line x1="661.5" y1="0" x2="661.5" y2="17.6" stroke="#a6a6a6"/>
<rect x="662.5" y="0" width="24" height="17" fill="#f8f8f8"/>
<path d="M668.8,0 V12.2 L671.6,9.6 L674,14.4 L675.8,13.5 L673.5,8.9 L677.2,8.6 Z" fill="#505050"/>
<path d="M701.4,0 V14.5 M694.2,7.3 H708.6" stroke="#3a3a3a" stroke-width="1.1"/><rect x="700.4" y="6.3" width="2" height="2" fill="#f0f0f0"/>
<line x1="718.5" y1="0" x2="718.5" y2="17.6" stroke="#a6a6a6"/>
<path d="M735.3,1 V14" stroke="#3a3a3a" stroke-width="1.1"/>
<path d="M757.8,7.3 H770" stroke="#3a3a3a" stroke-width="1.1"/>
<path d="M786,14 L798,2" stroke="#3a3a3a" stroke-width="1.1"/>
<path d="M812.2,9.6 L825.6,-0.6 M813.6,13.6 L827,3.4" stroke="#505050" stroke-width="1.2" fill="none"/>
<path d="M815.2,13 L817.6,4.8 M818.2,11 L820.6,2.6 M821.2,8.8 L823.6,0.6 M824.2,6.4 L825.8,1" stroke="#505050" stroke-width="1.1" fill="none"/>
<text x="822.4" y="16.2" font-size="6.8" font-weight="bold" fill="#222">E</text>
<line x1="841" y1="0.5" x2="854" y2="0.5" stroke="#3a3a3a" stroke-width="1" stroke-dasharray="1 1"/>
<line x1="841" y1="4.2" x2="854" y2="4.2" stroke="#3a3a3a" stroke-width="1" stroke-dasharray="1 1"/>
<line x1="841" y1="7.8" x2="854" y2="7.8" stroke="#3a3a3a" stroke-width="1" stroke-dasharray="1 1"/>
<line x1="841" y1="11.5" x2="849.5" y2="11.5" stroke="#3a3a3a" stroke-width="1" stroke-dasharray="1 1"/>
<text x="850" y="16.4" font-size="6.8" font-weight="bold" fill="#222">F</text>
<text x="871.2" y="12.2" font-size="13" font-weight="bold" fill="#555" textLength="9" lengthAdjust="spacingAndGlyphs">A</text>
<rect x="898" y="0.5" width="11.4" height="13" fill="none" stroke="#444" stroke-width="1" stroke-dasharray="1 1"/>
<text x="899.6" y="12.2" font-size="12.6" font-weight="bold" fill="#555" textLength="8.4" lengthAdjust="spacingAndGlyphs">T</text>
<path d="M925.2,4.2 L928.4,0.6 L931.6,4.2 L928.4,5.6 Z M932.4,10.4 L935.6,9 L938.8,10.4 L935.6,14 Z" fill="#444"/><path d="M927.6,7.4 l2.2,2.4 l3.6,-4.6" stroke="#3a3a3a" stroke-width="1.5" fill="none"/>
<polygon points="945.8000000000001,5.8 951.4,5.8 948.6,8.8" fill="#000"/>
<line x1="957.8" y1="0" x2="957.8" y2="18" stroke="#a0a0a0"/>
<line x1="962.4" y1="1" x2="962.4" y2="16" stroke="#b4b4b4" stroke-width="3" stroke-dasharray="1 1"/>
<text x="972.2" y="10.9" font-size="9.4" fill="#3c3c3c" textLength="13.4" lengthAdjust="spacingAndGlyphs">M1</text>
<text x="1000.4" y="10.9" font-size="9.4" fill="#3c3c3c" textLength="13.2" lengthAdjust="spacingAndGlyphs">M5</text>
<text x="1026.3" y="10.9" font-size="9.4" fill="#3c3c3c" textLength="18.2" lengthAdjust="spacingAndGlyphs">M15</text>
<text x="1054.2" y="10.9" font-size="9.4" fill="#3c3c3c" textLength="18.4" lengthAdjust="spacingAndGlyphs">M30</text>
<text x="1085.2" y="10.9" font-size="9.4" fill="#3c3c3c" textLength="12.2" lengthAdjust="spacingAndGlyphs">H1</text>
<text x="1112.2" y="10.9" font-size="9.4" fill="#3c3c3c" textLength="13" lengthAdjust="spacingAndGlyphs">H4</text>
<line x1="1135.5" y1="0" x2="1135.5" y2="16.8" stroke="#8c8c8c"/>
<rect x="1136.5" y="0" width="23.5" height="17" fill="#f8f8f8"/>
<text x="1141.2" y="10.9" font-size="9.4" fill="#3c3c3c" textLength="12.2" lengthAdjust="spacingAndGlyphs">D1</text>
<text x="1168.8" y="10.9" font-size="9.4" fill="#3c3c3c" textLength="14.6" lengthAdjust="spacingAndGlyphs">W1</text>
<text x="1195.4" y="10.9" font-size="9.4" fill="#3c3c3c" textLength="15.2" lengthAdjust="spacingAndGlyphs">MN</text>
<line x1="1218.5" y1="0" x2="1218.5" y2="17.6" stroke="#a6a6a6"/>
<line x1="1686" y1="7.4" x2="1681" y2="12" stroke="#2858c8" stroke-width="2.4" stroke-linecap="round"/><circle cx="1688.6" cy="4.4" r="3.5" fill="#f4f6fc" stroke="#2858c8" stroke-width="1.3"/>
<path d="M1711.5,13 q-6.5,-0.5 -6.5,-4.6 q0,-4.2 6.6,-4.4 q6.4,0.2 6.4,4.4 q0,3.6 -4.6,4.4 l-4,2.6 z" fill="#e4e6ee" stroke="#b8b8c0" stroke-width="0.8"/>
<circle cx="1719.6" cy="4.8" r="8.2" fill="url(#gred)"/>
<text x="1719.7" y="9.4" font-size="12.5" font-weight="bold" fill="#fff" text-anchor="middle" font-family='"Liberation Serif",serif'>1</text>
</g>
</svg></body></html>
